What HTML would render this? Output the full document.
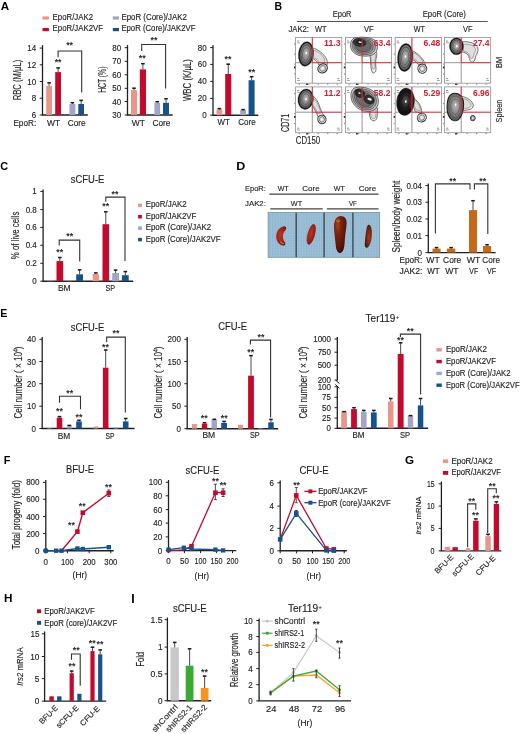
<!DOCTYPE html>
<html><head><meta charset="utf-8"><title>Figure</title>
<style>
html,body{margin:0;padding:0;background:#fff;}
body{width:520px;height:734px;overflow:hidden;}
svg{display:block;font-family:"Liberation Sans",sans-serif;filter:blur(0.3px);}
</style></head><body>
<svg width="520" height="734" viewBox="0 0 520 734">
<rect width="520" height="734" fill="#fff"/>
<text x="0.7" y="10.2" font-size="11.6" fill="#000" font-weight="bold" textLength="8.4" lengthAdjust="spacingAndGlyphs">A</text>
<rect x="42.5" y="16.4" width="6.4" height="3.2" fill="#E8958A"/>
<text x="52.6" y="19.8" font-size="8.2" fill="#231F20" stroke="#231F20" stroke-width="0.15" textLength="40.4" lengthAdjust="spacingAndGlyphs">EpoR/JAK2</text>
<rect x="42.5" y="28" width="6.4" height="3.2" fill="#C40A2C"/>
<text x="52.6" y="31.3" font-size="8.2" fill="#231F20" stroke="#231F20" stroke-width="0.15" textLength="50.4" lengthAdjust="spacingAndGlyphs">EpoR/JAK2VF</text>
<rect x="112.8" y="16.4" width="6.2" height="3.2" fill="#A2A5C8"/>
<text x="121.4" y="19.8" font-size="8.2" fill="#231F20" stroke="#231F20" stroke-width="0.15" textLength="65.5" lengthAdjust="spacingAndGlyphs">EpoR (Core)/JAK2</text>
<rect x="112.8" y="28" width="6.2" height="3.2" fill="#18528C"/>
<text x="121.4" y="31.3" font-size="8.2" fill="#231F20" stroke="#231F20" stroke-width="0.15" textLength="74" lengthAdjust="spacingAndGlyphs">EpoR (Core)/JAK2VF</text>
<line x1="42.5" y1="45.2" x2="42.5" y2="115" stroke="#231F20" stroke-width="1.3"/>
<line x1="39.7" y1="48.1" x2="42.5" y2="48.1" stroke="#231F20" stroke-width="1"/>
<text x="36.2" y="51.1" font-size="8.7" fill="#231F20" text-anchor="end" stroke="#231F20" stroke-width="0.15" textLength="8.9" lengthAdjust="spacingAndGlyphs">14</text>
<line x1="39.7" y1="64.8" x2="42.5" y2="64.8" stroke="#231F20" stroke-width="1"/>
<text x="36.2" y="67.8" font-size="8.7" fill="#231F20" text-anchor="end" stroke="#231F20" stroke-width="0.15" textLength="8.9" lengthAdjust="spacingAndGlyphs">12</text>
<line x1="39.7" y1="81.5" x2="42.5" y2="81.5" stroke="#231F20" stroke-width="1"/>
<text x="36.2" y="84.5" font-size="8.7" fill="#231F20" text-anchor="end" stroke="#231F20" stroke-width="0.15" textLength="8.9" lengthAdjust="spacingAndGlyphs">10</text>
<line x1="39.7" y1="98.2" x2="42.5" y2="98.2" stroke="#231F20" stroke-width="1"/>
<text x="36.2" y="101.2" font-size="8.7" fill="#231F20" text-anchor="end" stroke="#231F20" stroke-width="0.15" textLength="4.45" lengthAdjust="spacingAndGlyphs">8</text>
<line x1="39.7" y1="115" x2="42.5" y2="115" stroke="#231F20" stroke-width="1"/>
<text x="36.2" y="118" font-size="8.7" fill="#231F20" text-anchor="end" stroke="#231F20" stroke-width="0.15" textLength="4.45" lengthAdjust="spacingAndGlyphs">6</text>
<line x1="41.85" y1="115" x2="87.8" y2="115" stroke="#231F20" stroke-width="1.4"/>
<rect x="46.2" y="85.9" width="5.8" height="29.1" fill="#E8958A"/>
<line x1="49.1" y1="82.4" x2="49.1" y2="85.9" stroke="#4a4a4a" stroke-width="1"/>
<line x1="47.3" y1="82.8" x2="50.9" y2="82.8" stroke="#1a1a1a" stroke-width="1.5"/>
<rect x="55.2" y="72.1" width="5.8" height="42.9" fill="#C40A2C"/>
<line x1="58.1" y1="67.5" x2="58.1" y2="72.1" stroke="#4a4a4a" stroke-width="1"/>
<line x1="56.3" y1="67.9" x2="59.9" y2="67.9" stroke="#1a1a1a" stroke-width="1.5"/>
<rect x="69.4" y="104" width="6" height="11" fill="#A2A5C8"/>
<line x1="72.4" y1="102.3" x2="72.4" y2="104" stroke="#4a4a4a" stroke-width="1"/>
<line x1="70.6" y1="102.7" x2="74.2" y2="102.7" stroke="#1a1a1a" stroke-width="1.5"/>
<rect x="78.3" y="104" width="5.7" height="11" fill="#18528C"/>
<line x1="81.15" y1="100" x2="81.15" y2="104" stroke="#4a4a4a" stroke-width="1"/>
<line x1="79.35" y1="100.4" x2="82.95" y2="100.4" stroke="#1a1a1a" stroke-width="1.5"/>
<text x="58.1" y="64.8" font-size="8.8" fill="#2a2a2a" font-weight="bold" text-anchor="middle">**</text>
<polyline points="58.1,57.3 58.1,51 81.7,51 81.7,92.5" fill="none" stroke="#333" stroke-width="1.1"/>
<text x="69.6" y="48.1" font-size="8.8" fill="#2a2a2a" font-weight="bold" text-anchor="middle">**</text>
<text x="20.6" y="80" font-size="10" fill="#231F20" text-anchor="middle" stroke="#231F20" stroke-width="0.15" textLength="40.5" lengthAdjust="spacingAndGlyphs" transform="rotate(-90 20.6 80)">RBC (M/µL)</text>
<text x="13.4" y="125.5" font-size="8.5" fill="#231F20" stroke="#231F20" stroke-width="0.15" textLength="22.8" lengthAdjust="spacingAndGlyphs">EpoR:</text>
<text x="53.5" y="125.5" font-size="8.5" fill="#231F20" text-anchor="middle" stroke="#231F20" stroke-width="0.15" textLength="13.1" lengthAdjust="spacingAndGlyphs">WT</text>
<text x="76.7" y="125.5" font-size="8.5" fill="#231F20" text-anchor="middle" stroke="#231F20" stroke-width="0.15" textLength="18" lengthAdjust="spacingAndGlyphs">Core</text>
<line x1="127.5" y1="45.1" x2="127.5" y2="115" stroke="#231F20" stroke-width="1.3"/>
<line x1="124.7" y1="47.7" x2="127.5" y2="47.7" stroke="#231F20" stroke-width="1"/>
<text x="121.2" y="50.7" font-size="8.7" fill="#231F20" text-anchor="end" stroke="#231F20" stroke-width="0.15" textLength="8.9" lengthAdjust="spacingAndGlyphs">80</text>
<line x1="124.7" y1="61.3" x2="127.5" y2="61.3" stroke="#231F20" stroke-width="1"/>
<text x="121.2" y="64.3" font-size="8.7" fill="#231F20" text-anchor="end" stroke="#231F20" stroke-width="0.15" textLength="8.9" lengthAdjust="spacingAndGlyphs">70</text>
<line x1="124.7" y1="74.8" x2="127.5" y2="74.8" stroke="#231F20" stroke-width="1"/>
<text x="121.2" y="77.8" font-size="8.7" fill="#231F20" text-anchor="end" stroke="#231F20" stroke-width="0.15" textLength="8.9" lengthAdjust="spacingAndGlyphs">60</text>
<line x1="124.7" y1="88.3" x2="127.5" y2="88.3" stroke="#231F20" stroke-width="1"/>
<text x="121.2" y="91.3" font-size="8.7" fill="#231F20" text-anchor="end" stroke="#231F20" stroke-width="0.15" textLength="8.9" lengthAdjust="spacingAndGlyphs">50</text>
<line x1="124.7" y1="101.5" x2="127.5" y2="101.5" stroke="#231F20" stroke-width="1"/>
<text x="121.2" y="104.5" font-size="8.7" fill="#231F20" text-anchor="end" stroke="#231F20" stroke-width="0.15" textLength="8.9" lengthAdjust="spacingAndGlyphs">40</text>
<line x1="124.7" y1="115" x2="127.5" y2="115" stroke="#231F20" stroke-width="1"/>
<text x="121.2" y="118" font-size="8.7" fill="#231F20" text-anchor="end" stroke="#231F20" stroke-width="0.15" textLength="8.9" lengthAdjust="spacingAndGlyphs">30</text>
<line x1="126.85" y1="115" x2="172.7" y2="115" stroke="#231F20" stroke-width="1.4"/>
<rect x="131" y="90.1" width="6" height="24.9" fill="#E8958A"/>
<line x1="134" y1="87.8" x2="134" y2="90.1" stroke="#4a4a4a" stroke-width="1"/>
<line x1="132.2" y1="88.2" x2="135.8" y2="88.2" stroke="#1a1a1a" stroke-width="1.5"/>
<rect x="139.8" y="69.4" width="6.2" height="45.6" fill="#C40A2C"/>
<line x1="142.9" y1="63.3" x2="142.9" y2="69.4" stroke="#4a4a4a" stroke-width="1"/>
<line x1="141.1" y1="63.7" x2="144.7" y2="63.7" stroke="#1a1a1a" stroke-width="1.5"/>
<rect x="154.4" y="102.8" width="5.7" height="12.2" fill="#A2A5C8"/>
<line x1="157.25" y1="101.3" x2="157.25" y2="102.8" stroke="#4a4a4a" stroke-width="1"/>
<line x1="155.45" y1="101.7" x2="159.05" y2="101.7" stroke="#1a1a1a" stroke-width="1.5"/>
<rect x="163" y="102.8" width="6" height="12.2" fill="#18528C"/>
<line x1="166" y1="98.4" x2="166" y2="102.8" stroke="#4a4a4a" stroke-width="1"/>
<line x1="164.2" y1="98.8" x2="167.8" y2="98.8" stroke="#1a1a1a" stroke-width="1.5"/>
<text x="142.3" y="60.8" font-size="8.8" fill="#2a2a2a" font-weight="bold" text-anchor="middle">**</text>
<polyline points="141.7,51.1 141.7,44.5 165.6,44.5 165.6,88.6" fill="none" stroke="#333" stroke-width="1.1"/>
<text x="154" y="43.3" font-size="8.8" fill="#2a2a2a" font-weight="bold" text-anchor="middle">**</text>
<text x="106.2" y="79.7" font-size="10" fill="#231F20" text-anchor="middle" stroke="#231F20" stroke-width="0.15" textLength="26.2" lengthAdjust="spacingAndGlyphs" transform="rotate(-90 106.2 79.7)">HCT (%)</text>
<text x="138.3" y="125.5" font-size="8.5" fill="#231F20" text-anchor="middle" stroke="#231F20" stroke-width="0.15" textLength="13.1" lengthAdjust="spacingAndGlyphs">WT</text>
<text x="161.5" y="125.5" font-size="8.5" fill="#231F20" text-anchor="middle" stroke="#231F20" stroke-width="0.15" textLength="18" lengthAdjust="spacingAndGlyphs">Core</text>
<line x1="213" y1="45.2" x2="213" y2="115.2" stroke="#231F20" stroke-width="1.3"/>
<line x1="210.2" y1="47.6" x2="213" y2="47.6" stroke="#231F20" stroke-width="1"/>
<text x="206.7" y="50.6" font-size="8.7" fill="#231F20" text-anchor="end" stroke="#231F20" stroke-width="0.15" textLength="8.9" lengthAdjust="spacingAndGlyphs">80</text>
<line x1="210.2" y1="64.4" x2="213" y2="64.4" stroke="#231F20" stroke-width="1"/>
<text x="206.7" y="67.4" font-size="8.7" fill="#231F20" text-anchor="end" stroke="#231F20" stroke-width="0.15" textLength="8.9" lengthAdjust="spacingAndGlyphs">60</text>
<line x1="210.2" y1="81.4" x2="213" y2="81.4" stroke="#231F20" stroke-width="1"/>
<text x="206.7" y="84.4" font-size="8.7" fill="#231F20" text-anchor="end" stroke="#231F20" stroke-width="0.15" textLength="8.9" lengthAdjust="spacingAndGlyphs">40</text>
<line x1="210.2" y1="98.4" x2="213" y2="98.4" stroke="#231F20" stroke-width="1"/>
<text x="206.7" y="101.4" font-size="8.7" fill="#231F20" text-anchor="end" stroke="#231F20" stroke-width="0.15" textLength="8.9" lengthAdjust="spacingAndGlyphs">20</text>
<line x1="210.2" y1="115.2" x2="213" y2="115.2" stroke="#231F20" stroke-width="1"/>
<text x="206.7" y="118.2" font-size="8.7" fill="#231F20" text-anchor="end" stroke="#231F20" stroke-width="0.15" textLength="4.45" lengthAdjust="spacingAndGlyphs">0</text>
<line x1="212.35" y1="115.2" x2="258.3" y2="115.2" stroke="#231F20" stroke-width="1.4"/>
<rect x="216.5" y="109.4" width="5.8" height="5.8" fill="#E8958A"/>
<line x1="219.4" y1="108.2" x2="219.4" y2="109.4" stroke="#4a4a4a" stroke-width="1"/>
<line x1="217.6" y1="108.6" x2="221.2" y2="108.6" stroke="#1a1a1a" stroke-width="1.5"/>
<rect x="225.2" y="74" width="6.1" height="41.2" fill="#C40A2C"/>
<line x1="228.25" y1="63.8" x2="228.25" y2="74" stroke="#4a4a4a" stroke-width="1"/>
<line x1="226.45" y1="64.2" x2="230.05" y2="64.2" stroke="#1a1a1a" stroke-width="1.5"/>
<rect x="240.2" y="110" width="5.8" height="5.2" fill="#A2A5C8"/>
<line x1="243.1" y1="109.2" x2="243.1" y2="110" stroke="#4a4a4a" stroke-width="1"/>
<line x1="241.3" y1="109.6" x2="244.9" y2="109.6" stroke="#1a1a1a" stroke-width="1.5"/>
<rect x="248.6" y="80.2" width="6" height="35" fill="#18528C"/>
<line x1="251.6" y1="76.3" x2="251.6" y2="80.2" stroke="#4a4a4a" stroke-width="1"/>
<line x1="249.8" y1="76.7" x2="253.4" y2="76.7" stroke="#1a1a1a" stroke-width="1.5"/>
<text x="228" y="61.5" font-size="8.8" fill="#2a2a2a" font-weight="bold" text-anchor="middle">**</text>
<text x="251.7" y="75" font-size="8.8" fill="#2a2a2a" font-weight="bold" text-anchor="middle">**</text>
<text x="191.5" y="80.1" font-size="10" fill="#231F20" text-anchor="middle" stroke="#231F20" stroke-width="0.15" textLength="42" lengthAdjust="spacingAndGlyphs" transform="rotate(-90 191.5 80.1)">WBC (K/µL)</text>
<text x="223.7" y="125" font-size="8.5" fill="#231F20" text-anchor="middle" stroke="#231F20" stroke-width="0.15" textLength="12.3" lengthAdjust="spacingAndGlyphs">WT</text>
<text x="247" y="125" font-size="8.5" fill="#231F20" text-anchor="middle" stroke="#231F20" stroke-width="0.15" textLength="17.5" lengthAdjust="spacingAndGlyphs">Core</text>
<text x="274.6" y="9.8" font-size="11.3" fill="#000" font-weight="bold" textLength="7.6" lengthAdjust="spacingAndGlyphs">B</text>
<text x="342.1" y="17" font-size="8.3" fill="#231F20" text-anchor="middle" stroke="#231F20" stroke-width="0.15" textLength="18.7" lengthAdjust="spacingAndGlyphs">EpoR</text>
<text x="444.3" y="17" font-size="8.3" fill="#231F20" text-anchor="middle" stroke="#231F20" stroke-width="0.15" textLength="43.1" lengthAdjust="spacingAndGlyphs">EpoR (Core)</text>
<line x1="296.9" y1="21.5" x2="487.7" y2="21.5" stroke="#555" stroke-width="1.2"/>
<text x="288.5" y="31.75" font-size="8.3" fill="#231F20" stroke="#231F20" stroke-width="0.15" textLength="20.5" lengthAdjust="spacingAndGlyphs">JAK2:</text>
<text x="320.75" y="31.75" font-size="8.3" fill="#231F20" text-anchor="middle" stroke="#231F20" stroke-width="0.15" textLength="11.5" lengthAdjust="spacingAndGlyphs">WT</text>
<text x="368.9" y="31.75" font-size="8.3" fill="#231F20" text-anchor="middle" stroke="#231F20" stroke-width="0.15" textLength="9.7" lengthAdjust="spacingAndGlyphs">VF</text>
<text x="419.3" y="31.75" font-size="8.3" fill="#231F20" text-anchor="middle" stroke="#231F20" stroke-width="0.15" textLength="11.2" lengthAdjust="spacingAndGlyphs">WT</text>
<text x="467.8" y="31.75" font-size="8.3" fill="#231F20" text-anchor="middle" stroke="#231F20" stroke-width="0.15" textLength="9.5" lengthAdjust="spacingAndGlyphs">VF</text>
<rect x="295.6" y="37.4" width="46.2" height="45.8" fill="#fff" stroke="#8f8f8f" stroke-width="0.8"/>
<line x1="312.3" y1="62.7" x2="312.3" y2="83.2" stroke="#8a8a8a" stroke-width="0.9"/>
<line x1="295.6" y1="62.7" x2="312.3" y2="62.7" stroke="#8a8a8a" stroke-width="0.9"/>
<rect x="297.1" y="40.6" width="2.2" height="0.9" fill="#8a8a8a"/>
<rect x="297.1" y="42.4" width="2.8" height="0.9" fill="#9a9a9a"/>
<rect x="297.1" y="78.2" width="2.2" height="0.9" fill="#8a8a8a"/>
<rect x="297.1" y="80" width="2.8" height="0.9" fill="#9a9a9a"/>
<rect x="337.3" y="78.2" width="2.2" height="0.9" fill="#8a8a8a"/>
<rect x="337.3" y="80" width="2.8" height="0.9" fill="#9a9a9a"/>
<rect x="298.6" y="83.7" width="1.3" height="0.9" fill="#777"/>
<rect x="308.1" y="83.7" width="1.3" height="0.9" fill="#777"/>
<rect x="317.6" y="83.7" width="1.3" height="0.9" fill="#777"/>
<rect x="327.1" y="83.7" width="1.3" height="0.9" fill="#777"/>
<rect x="336.6" y="83.7" width="1.3" height="0.9" fill="#777"/>
<rect x="306.1" y="83.6" width="2" height="1.4" fill="#333"/>
<rect x="294.2" y="43.4" width="0.9" height="1.3" fill="#888"/>
<rect x="294.2" y="53.4" width="0.9" height="1.3" fill="#888"/>
<rect x="294.2" y="63.4" width="0.9" height="1.3" fill="#888"/>
<rect x="294.2" y="73.4" width="0.9" height="1.3" fill="#888"/>
<rect x="294" y="66.4" width="1.5" height="2" fill="#333"/>
<rect x="345.4" y="37.4" width="46.2" height="45.8" fill="#fff" stroke="#8f8f8f" stroke-width="0.8"/>
<line x1="362.1" y1="62.7" x2="362.1" y2="83.2" stroke="#8a8a8a" stroke-width="0.9"/>
<line x1="345.4" y1="62.7" x2="362.1" y2="62.7" stroke="#8a8a8a" stroke-width="0.9"/>
<rect x="346.9" y="40.6" width="2.2" height="0.9" fill="#8a8a8a"/>
<rect x="346.9" y="42.4" width="2.8" height="0.9" fill="#9a9a9a"/>
<rect x="346.9" y="78.2" width="2.2" height="0.9" fill="#8a8a8a"/>
<rect x="346.9" y="80" width="2.8" height="0.9" fill="#9a9a9a"/>
<rect x="387.1" y="78.2" width="2.2" height="0.9" fill="#8a8a8a"/>
<rect x="387.1" y="80" width="2.8" height="0.9" fill="#9a9a9a"/>
<rect x="348.4" y="83.7" width="1.3" height="0.9" fill="#777"/>
<rect x="357.9" y="83.7" width="1.3" height="0.9" fill="#777"/>
<rect x="367.4" y="83.7" width="1.3" height="0.9" fill="#777"/>
<rect x="376.9" y="83.7" width="1.3" height="0.9" fill="#777"/>
<rect x="386.4" y="83.7" width="1.3" height="0.9" fill="#777"/>
<rect x="355.9" y="83.6" width="2" height="1.4" fill="#333"/>
<rect x="344" y="43.4" width="0.9" height="1.3" fill="#888"/>
<rect x="344" y="53.4" width="0.9" height="1.3" fill="#888"/>
<rect x="344" y="63.4" width="0.9" height="1.3" fill="#888"/>
<rect x="344" y="73.4" width="0.9" height="1.3" fill="#888"/>
<rect x="343.8" y="66.4" width="1.5" height="2" fill="#333"/>
<rect x="395.2" y="37.4" width="46.2" height="45.8" fill="#fff" stroke="#8f8f8f" stroke-width="0.8"/>
<line x1="411.9" y1="62.7" x2="411.9" y2="83.2" stroke="#8a8a8a" stroke-width="0.9"/>
<line x1="395.2" y1="62.7" x2="411.9" y2="62.7" stroke="#8a8a8a" stroke-width="0.9"/>
<rect x="396.7" y="40.6" width="2.2" height="0.9" fill="#8a8a8a"/>
<rect x="396.7" y="42.4" width="2.8" height="0.9" fill="#9a9a9a"/>
<rect x="396.7" y="78.2" width="2.2" height="0.9" fill="#8a8a8a"/>
<rect x="396.7" y="80" width="2.8" height="0.9" fill="#9a9a9a"/>
<rect x="436.9" y="78.2" width="2.2" height="0.9" fill="#8a8a8a"/>
<rect x="436.9" y="80" width="2.8" height="0.9" fill="#9a9a9a"/>
<rect x="398.2" y="83.7" width="1.3" height="0.9" fill="#777"/>
<rect x="407.7" y="83.7" width="1.3" height="0.9" fill="#777"/>
<rect x="417.2" y="83.7" width="1.3" height="0.9" fill="#777"/>
<rect x="426.7" y="83.7" width="1.3" height="0.9" fill="#777"/>
<rect x="436.2" y="83.7" width="1.3" height="0.9" fill="#777"/>
<rect x="405.7" y="83.6" width="2" height="1.4" fill="#333"/>
<rect x="393.8" y="43.4" width="0.9" height="1.3" fill="#888"/>
<rect x="393.8" y="53.4" width="0.9" height="1.3" fill="#888"/>
<rect x="393.8" y="63.4" width="0.9" height="1.3" fill="#888"/>
<rect x="393.8" y="73.4" width="0.9" height="1.3" fill="#888"/>
<rect x="393.6" y="66.4" width="1.5" height="2" fill="#333"/>
<rect x="444.5" y="37.4" width="46.2" height="45.8" fill="#fff" stroke="#8f8f8f" stroke-width="0.8"/>
<line x1="461.2" y1="62.7" x2="461.2" y2="83.2" stroke="#8a8a8a" stroke-width="0.9"/>
<line x1="444.5" y1="62.7" x2="461.2" y2="62.7" stroke="#8a8a8a" stroke-width="0.9"/>
<rect x="446" y="40.6" width="2.2" height="0.9" fill="#8a8a8a"/>
<rect x="446" y="42.4" width="2.8" height="0.9" fill="#9a9a9a"/>
<rect x="446" y="78.2" width="2.2" height="0.9" fill="#8a8a8a"/>
<rect x="446" y="80" width="2.8" height="0.9" fill="#9a9a9a"/>
<rect x="486.2" y="78.2" width="2.2" height="0.9" fill="#8a8a8a"/>
<rect x="486.2" y="80" width="2.8" height="0.9" fill="#9a9a9a"/>
<rect x="447.5" y="83.7" width="1.3" height="0.9" fill="#777"/>
<rect x="457" y="83.7" width="1.3" height="0.9" fill="#777"/>
<rect x="466.5" y="83.7" width="1.3" height="0.9" fill="#777"/>
<rect x="476" y="83.7" width="1.3" height="0.9" fill="#777"/>
<rect x="485.5" y="83.7" width="1.3" height="0.9" fill="#777"/>
<rect x="455" y="83.6" width="2" height="1.4" fill="#333"/>
<rect x="443.1" y="43.4" width="0.9" height="1.3" fill="#888"/>
<rect x="443.1" y="53.4" width="0.9" height="1.3" fill="#888"/>
<rect x="443.1" y="63.4" width="0.9" height="1.3" fill="#888"/>
<rect x="443.1" y="73.4" width="0.9" height="1.3" fill="#888"/>
<rect x="442.9" y="66.4" width="1.5" height="2" fill="#333"/>
<rect x="295.6" y="86.9" width="46.2" height="45.8" fill="#fff" stroke="#8f8f8f" stroke-width="0.8"/>
<line x1="312.3" y1="112.2" x2="312.3" y2="132.7" stroke="#8a8a8a" stroke-width="0.9"/>
<line x1="295.6" y1="112.2" x2="312.3" y2="112.2" stroke="#8a8a8a" stroke-width="0.9"/>
<rect x="297.1" y="90.1" width="2.2" height="0.9" fill="#8a8a8a"/>
<rect x="297.1" y="91.9" width="2.8" height="0.9" fill="#9a9a9a"/>
<rect x="297.1" y="127.7" width="2.2" height="0.9" fill="#8a8a8a"/>
<rect x="297.1" y="129.5" width="2.8" height="0.9" fill="#9a9a9a"/>
<rect x="337.3" y="127.7" width="2.2" height="0.9" fill="#8a8a8a"/>
<rect x="337.3" y="129.5" width="2.8" height="0.9" fill="#9a9a9a"/>
<rect x="298.6" y="133.2" width="1.3" height="0.9" fill="#777"/>
<rect x="308.1" y="133.2" width="1.3" height="0.9" fill="#777"/>
<rect x="317.6" y="133.2" width="1.3" height="0.9" fill="#777"/>
<rect x="327.1" y="133.2" width="1.3" height="0.9" fill="#777"/>
<rect x="336.6" y="133.2" width="1.3" height="0.9" fill="#777"/>
<rect x="306.1" y="133.1" width="2" height="1.4" fill="#333"/>
<rect x="294.2" y="92.9" width="0.9" height="1.3" fill="#888"/>
<rect x="294.2" y="102.9" width="0.9" height="1.3" fill="#888"/>
<rect x="294.2" y="112.9" width="0.9" height="1.3" fill="#888"/>
<rect x="294.2" y="122.9" width="0.9" height="1.3" fill="#888"/>
<rect x="294" y="115.9" width="1.5" height="2" fill="#333"/>
<rect x="345.4" y="86.9" width="46.2" height="45.8" fill="#fff" stroke="#8f8f8f" stroke-width="0.8"/>
<line x1="362.1" y1="112.2" x2="362.1" y2="132.7" stroke="#8a8a8a" stroke-width="0.9"/>
<line x1="345.4" y1="112.2" x2="362.1" y2="112.2" stroke="#8a8a8a" stroke-width="0.9"/>
<rect x="346.9" y="90.1" width="2.2" height="0.9" fill="#8a8a8a"/>
<rect x="346.9" y="91.9" width="2.8" height="0.9" fill="#9a9a9a"/>
<rect x="346.9" y="127.7" width="2.2" height="0.9" fill="#8a8a8a"/>
<rect x="346.9" y="129.5" width="2.8" height="0.9" fill="#9a9a9a"/>
<rect x="387.1" y="127.7" width="2.2" height="0.9" fill="#8a8a8a"/>
<rect x="387.1" y="129.5" width="2.8" height="0.9" fill="#9a9a9a"/>
<rect x="348.4" y="133.2" width="1.3" height="0.9" fill="#777"/>
<rect x="357.9" y="133.2" width="1.3" height="0.9" fill="#777"/>
<rect x="367.4" y="133.2" width="1.3" height="0.9" fill="#777"/>
<rect x="376.9" y="133.2" width="1.3" height="0.9" fill="#777"/>
<rect x="386.4" y="133.2" width="1.3" height="0.9" fill="#777"/>
<rect x="355.9" y="133.1" width="2" height="1.4" fill="#333"/>
<rect x="344" y="92.9" width="0.9" height="1.3" fill="#888"/>
<rect x="344" y="102.9" width="0.9" height="1.3" fill="#888"/>
<rect x="344" y="112.9" width="0.9" height="1.3" fill="#888"/>
<rect x="344" y="122.9" width="0.9" height="1.3" fill="#888"/>
<rect x="343.8" y="115.9" width="1.5" height="2" fill="#333"/>
<rect x="395.2" y="86.9" width="46.2" height="45.8" fill="#fff" stroke="#8f8f8f" stroke-width="0.8"/>
<line x1="411.9" y1="112.2" x2="411.9" y2="132.7" stroke="#8a8a8a" stroke-width="0.9"/>
<line x1="395.2" y1="112.2" x2="411.9" y2="112.2" stroke="#8a8a8a" stroke-width="0.9"/>
<rect x="396.7" y="90.1" width="2.2" height="0.9" fill="#8a8a8a"/>
<rect x="396.7" y="91.9" width="2.8" height="0.9" fill="#9a9a9a"/>
<rect x="396.7" y="127.7" width="2.2" height="0.9" fill="#8a8a8a"/>
<rect x="396.7" y="129.5" width="2.8" height="0.9" fill="#9a9a9a"/>
<rect x="436.9" y="127.7" width="2.2" height="0.9" fill="#8a8a8a"/>
<rect x="436.9" y="129.5" width="2.8" height="0.9" fill="#9a9a9a"/>
<rect x="398.2" y="133.2" width="1.3" height="0.9" fill="#777"/>
<rect x="407.7" y="133.2" width="1.3" height="0.9" fill="#777"/>
<rect x="417.2" y="133.2" width="1.3" height="0.9" fill="#777"/>
<rect x="426.7" y="133.2" width="1.3" height="0.9" fill="#777"/>
<rect x="436.2" y="133.2" width="1.3" height="0.9" fill="#777"/>
<rect x="405.7" y="133.1" width="2" height="1.4" fill="#333"/>
<rect x="393.8" y="92.9" width="0.9" height="1.3" fill="#888"/>
<rect x="393.8" y="102.9" width="0.9" height="1.3" fill="#888"/>
<rect x="393.8" y="112.9" width="0.9" height="1.3" fill="#888"/>
<rect x="393.8" y="122.9" width="0.9" height="1.3" fill="#888"/>
<rect x="393.6" y="115.9" width="1.5" height="2" fill="#333"/>
<rect x="444.5" y="86.9" width="46.2" height="45.8" fill="#fff" stroke="#8f8f8f" stroke-width="0.8"/>
<line x1="461.2" y1="112.2" x2="461.2" y2="132.7" stroke="#8a8a8a" stroke-width="0.9"/>
<line x1="444.5" y1="112.2" x2="461.2" y2="112.2" stroke="#8a8a8a" stroke-width="0.9"/>
<rect x="446" y="90.1" width="2.2" height="0.9" fill="#8a8a8a"/>
<rect x="446" y="91.9" width="2.8" height="0.9" fill="#9a9a9a"/>
<rect x="446" y="127.7" width="2.2" height="0.9" fill="#8a8a8a"/>
<rect x="446" y="129.5" width="2.8" height="0.9" fill="#9a9a9a"/>
<rect x="486.2" y="127.7" width="2.2" height="0.9" fill="#8a8a8a"/>
<rect x="486.2" y="129.5" width="2.8" height="0.9" fill="#9a9a9a"/>
<rect x="447.5" y="133.2" width="1.3" height="0.9" fill="#777"/>
<rect x="457" y="133.2" width="1.3" height="0.9" fill="#777"/>
<rect x="466.5" y="133.2" width="1.3" height="0.9" fill="#777"/>
<rect x="476" y="133.2" width="1.3" height="0.9" fill="#777"/>
<rect x="485.5" y="133.2" width="1.3" height="0.9" fill="#777"/>
<rect x="455" y="133.1" width="2" height="1.4" fill="#333"/>
<rect x="443.1" y="92.9" width="0.9" height="1.3" fill="#888"/>
<rect x="443.1" y="102.9" width="0.9" height="1.3" fill="#888"/>
<rect x="443.1" y="112.9" width="0.9" height="1.3" fill="#888"/>
<rect x="443.1" y="122.9" width="0.9" height="1.3" fill="#888"/>
<rect x="442.9" y="115.9" width="1.5" height="2" fill="#333"/>
<defs><radialGradient id="bg1" cx="0.5" cy="0.45" r="0.55"><stop offset="0" stop-color="#b8b8b8"/><stop offset="0.45" stop-color="#8c8c8c"/><stop offset="0.85" stop-color="#666"/><stop offset="1" stop-color="#444"/></radialGradient><radialGradient id="bg2" cx="0.5" cy="0.45" r="0.55"><stop offset="0" stop-color="#555"/><stop offset="0.5" stop-color="#222"/><stop offset="1" stop-color="#0e0e0e"/></radialGradient></defs>
<path d="M310.5 47.5 C316 48 321.5 52 325 56.5 C327.5 60 328 63.5 326.5 66 L319 65 C317.5 61.5 315 59 311 58 Z" fill="#ececec" stroke="#4a4a4a" stroke-width="0.75" stroke-linejoin="round"/>
<path d="M310.5 47.5 C316 48 321.5 52 325 56.5 C327.5 60 328 63.5 326.5 66 L319 65 C317.5 61.5 315 59 311 58 Z" transform="translate(318.5 56.5) rotate(0) scale(0.7) translate(-318.5 -56.5)" fill="#dedede" stroke="#777" stroke-width="0.6" vector-effect="non-scaling-stroke" stroke-linejoin="round"/>
<ellipse cx="322.6" cy="68.4" rx="5" ry="4.4" transform="rotate(-35 322.6 68.4)" fill="#e2e2e2" stroke="#2a2a2a" stroke-width="0.95"/>
<ellipse cx="322.6" cy="68.4" rx="3.2" ry="2.82" transform="rotate(-35 322.6 68.4)" fill="#cdcdcd" stroke="#555" stroke-width="0.6"/>
<ellipse cx="322.6" cy="68.4" rx="1.4" ry="1.23" transform="rotate(-35 322.6 68.4)" fill="#f4f4f4" stroke="none" stroke-width="0"/>
<ellipse cx="306" cy="54" rx="7.6" ry="12.4" transform="rotate(6 306 54)" fill="none" stroke="#8a8a8a" stroke-width="0.6"/>
<ellipse cx="306" cy="54" rx="6.9" ry="11.7" transform="rotate(6 306 54)" fill="url(#bg1)" stroke="#151515" stroke-width="1.3"/>
<ellipse cx="306" cy="54" rx="5.24" ry="9.13" transform="rotate(6 306 54)" fill="none" stroke="#3a3a3a" stroke-width="0.6"/>
<ellipse cx="306" cy="54" rx="3.59" ry="6.44" transform="rotate(6 306 54)" fill="none" stroke="#4a4a4a" stroke-width="0.5"/>
<ellipse cx="306.3" cy="53" rx="0.9" ry="1.3" transform="rotate(6 306.3 53)" fill="#fafafa" stroke="none" stroke-width="0"/>
<path d="M367.5 51 C370 54 370.5 58 370.6 62 C370.8 66 371 70 372.6 72.6 C374.6 73.6 376.2 71.6 376 68.5 C375.7 65 375.2 61 376.6 56 C377.6 52 375 49.5 371 50 Z" fill="#ececec" stroke="#4a4a4a" stroke-width="0.75" stroke-linejoin="round"/>
<path d="M367.5 51 C370 54 370.5 58 370.6 62 C370.8 66 371 70 372.6 72.6 C374.6 73.6 376.2 71.6 376 68.5 C375.7 65 375.2 61 376.6 56 C377.6 52 375 49.5 371 50 Z" transform="translate(373 60) rotate(0) scale(0.7) translate(-373 -60)" fill="#dedede" stroke="#777" stroke-width="0.6" vector-effect="non-scaling-stroke" stroke-linejoin="round"/>
<path d="M354 38.2 C360 36.6 368 36.8 373.2 39.3 C377.8 41.6 378.4 47 376.4 51.6 C373.8 55.8 367 56.8 360.8 55.8 C354.8 54.8 350.8 51 350.6 46 C350.4 42 351.4 39.3 354 38.2 Z" transform="translate(362 45.5) rotate(0) scale(1) translate(-362 -45.5)" fill="#d4d4d4" stroke="#333" stroke-width="0.7" vector-effect="non-scaling-stroke" stroke-linejoin="round"/>
<path d="M354 38.2 C360 36.6 368 36.8 373.2 39.3 C377.8 41.6 378.4 47 376.4 51.6 C373.8 55.8 367 56.8 360.8 55.8 C354.8 54.8 350.8 51 350.6 46 C350.4 42 351.4 39.3 354 38.2 Z" transform="translate(362 45.5) rotate(0) scale(0.86) translate(-362 -45.5)" fill="#b0b0b0" stroke="#3a3a3a" stroke-width="0.7" vector-effect="non-scaling-stroke" stroke-linejoin="round"/>
<path d="M354 38.2 C360 36.6 368 36.8 373.2 39.3 C377.8 41.6 378.4 47 376.4 51.6 C373.8 55.8 367 56.8 360.8 55.8 C354.8 54.8 350.8 51 350.6 46 C350.4 42 351.4 39.3 354 38.2 Z" transform="translate(362 45.5) rotate(0) scale(0.72) translate(-362 -45.5)" fill="#8c8c8c" stroke="#444" stroke-width="0.7" vector-effect="non-scaling-stroke" stroke-linejoin="round"/>
<path d="M354 38.2 C360 36.6 368 36.8 373.2 39.3 C377.8 41.6 378.4 47 376.4 51.6 C373.8 55.8 367 56.8 360.8 55.8 C354.8 54.8 350.8 51 350.6 46 C350.4 42 351.4 39.3 354 38.2 Z" transform="translate(362 45.5) rotate(0) scale(0.58) translate(-362 -45.5)" fill="#6a6a6a" stroke="#444" stroke-width="0.7" vector-effect="non-scaling-stroke" stroke-linejoin="round"/>
<ellipse cx="359.5" cy="42.5" rx="6.4" ry="3.8" transform="rotate(8 359.5 42.5)" fill="#333" stroke="#111" stroke-width="0.6"/>
<ellipse cx="359.8" cy="42.3" rx="3.6" ry="2.1" transform="rotate(8 359.8 42.3)" fill="#1a1a1a" stroke="none" stroke-width="0"/>
<ellipse cx="360.2" cy="42.2" rx="1.8" ry="0.8" transform="rotate(8 360.2 42.2)" fill="#eeeeee" stroke="none" stroke-width="0"/>
<path d="M410.5 50 C415.5 51.5 419.8 55.5 422.8 59.5 C425 62.5 426 65 424.8 66 L418.5 64.8 C416.5 62 414 60 411 59 Z" fill="#ececec" stroke="#4a4a4a" stroke-width="0.75" stroke-linejoin="round"/>
<path d="M410.5 50 C415.5 51.5 419.8 55.5 422.8 59.5 C425 62.5 426 65 424.8 66 L418.5 64.8 C416.5 62 414 60 411 59 Z" transform="translate(418 58) rotate(0) scale(0.7) translate(-418 -58)" fill="#dedede" stroke="#777" stroke-width="0.6" vector-effect="non-scaling-stroke" stroke-linejoin="round"/>
<ellipse cx="422.3" cy="68.7" rx="4.4" ry="4.6" transform="rotate(-30 422.3 68.7)" fill="#e2e2e2" stroke="#2a2a2a" stroke-width="0.95"/>
<ellipse cx="422.3" cy="68.7" rx="2.82" ry="2.94" transform="rotate(-30 422.3 68.7)" fill="#cdcdcd" stroke="#555" stroke-width="0.6"/>
<ellipse cx="422.3" cy="68.7" rx="1.23" ry="1.29" transform="rotate(-30 422.3 68.7)" fill="#f4f4f4" stroke="none" stroke-width="0"/>
<ellipse cx="405.2" cy="57.5" rx="7.7" ry="14" transform="rotate(5 405.2 57.5)" fill="none" stroke="#8a8a8a" stroke-width="0.6"/>
<ellipse cx="405.2" cy="57.5" rx="7" ry="13.3" transform="rotate(5 405.2 57.5)" fill="url(#bg1)" stroke="#151515" stroke-width="1.3"/>
<ellipse cx="405.2" cy="57.5" rx="5.32" ry="10.37" transform="rotate(5 405.2 57.5)" fill="none" stroke="#3a3a3a" stroke-width="0.6"/>
<ellipse cx="405.2" cy="57.5" rx="3.64" ry="7.32" transform="rotate(5 405.2 57.5)" fill="none" stroke="#4a4a4a" stroke-width="0.5"/>
<ellipse cx="405.5" cy="56.5" rx="0.9" ry="1.3" transform="rotate(5 405.5 56.5)" fill="#fafafa" stroke="none" stroke-width="0"/>
<path d="M460.5 42 C466 41 472.5 42.2 476.4 45.4 C479 48 478 52.4 476 55.4 C475 58.4 475 61.4 472.8 62.2 C470 62.6 469.4 59 468.8 56.5 C467.8 53.5 465 52.2 461 51.8 Z" fill="#ececec" stroke="#4a4a4a" stroke-width="0.75" stroke-linejoin="round"/>
<path d="M460.5 42 C466 41 472.5 42.2 476.4 45.4 C479 48 478 52.4 476 55.4 C475 58.4 475 61.4 472.8 62.2 C470 62.6 469.4 59 468.8 56.5 C467.8 53.5 465 52.2 461 51.8 Z" transform="translate(469.5 50) rotate(0) scale(0.7) translate(-469.5 -50)" fill="#dedede" stroke="#777" stroke-width="0.6" vector-effect="non-scaling-stroke" stroke-linejoin="round"/>
<ellipse cx="456.5" cy="46.2" rx="7.1" ry="8.6" transform="rotate(0 456.5 46.2)" fill="none" stroke="#8a8a8a" stroke-width="0.6"/>
<ellipse cx="456.5" cy="46.2" rx="6.4" ry="7.9" transform="rotate(0 456.5 46.2)" fill="url(#bg1)" stroke="#151515" stroke-width="1.3"/>
<ellipse cx="456.5" cy="46.2" rx="4.86" ry="6.16" transform="rotate(0 456.5 46.2)" fill="none" stroke="#3a3a3a" stroke-width="0.6"/>
<ellipse cx="456.5" cy="46.2" rx="3.33" ry="4.35" transform="rotate(0 456.5 46.2)" fill="none" stroke="#4a4a4a" stroke-width="0.5"/>
<ellipse cx="456.8" cy="46.2" rx="0.9" ry="1.3" transform="rotate(0 456.8 46.2)" fill="#fafafa" stroke="none" stroke-width="0"/>
<path d="M311 95 C315 96.5 317.8 101 319.4 106 C320.8 110 322.2 113 323.8 115.5 L318.2 117.2 C316.8 113.5 315.2 110 313.2 107 C311.6 105 310.6 103 310.6 101 Z" fill="#ececec" stroke="#4a4a4a" stroke-width="0.75" stroke-linejoin="round"/>
<path d="M311 95 C315 96.5 317.8 101 319.4 106 C320.8 110 322.2 113 323.8 115.5 L318.2 117.2 C316.8 113.5 315.2 110 313.2 107 C311.6 105 310.6 103 310.6 101 Z" transform="translate(316.5 106) rotate(0) scale(0.7) translate(-316.5 -106)" fill="#dedede" stroke="#777" stroke-width="0.6" vector-effect="non-scaling-stroke" stroke-linejoin="round"/>
<ellipse cx="321.9" cy="119.4" rx="4.1" ry="4.3" transform="rotate(-30 321.9 119.4)" fill="#e2e2e2" stroke="#2a2a2a" stroke-width="0.95"/>
<ellipse cx="321.9" cy="119.4" rx="2.62" ry="2.75" transform="rotate(-30 321.9 119.4)" fill="#cdcdcd" stroke="#555" stroke-width="0.6"/>
<ellipse cx="321.9" cy="119.4" rx="1.15" ry="1.2" transform="rotate(-30 321.9 119.4)" fill="#f4f4f4" stroke="none" stroke-width="0"/>
<ellipse cx="305.7" cy="99.2" rx="7.8" ry="10.3" transform="rotate(8 305.7 99.2)" fill="none" stroke="#8a8a8a" stroke-width="0.6"/>
<ellipse cx="305.7" cy="99.2" rx="7.1" ry="9.6" transform="rotate(8 305.7 99.2)" fill="url(#bg1)" stroke="#151515" stroke-width="1.3"/>
<ellipse cx="305.7" cy="99.2" rx="5.4" ry="7.49" transform="rotate(8 305.7 99.2)" fill="none" stroke="#3a3a3a" stroke-width="0.6"/>
<ellipse cx="305.7" cy="99.2" rx="3.69" ry="5.28" transform="rotate(8 305.7 99.2)" fill="none" stroke="#4a4a4a" stroke-width="0.5"/>
<ellipse cx="306" cy="99.2" rx="0.9" ry="1.3" transform="rotate(8 306 99.2)" fill="#fafafa" stroke="none" stroke-width="0"/>
<path d="M368.6 108.5 C369.2 112 369.4 116 370.8 119.2 C372.4 121.4 375.6 121.4 376.7 118.6 C377.7 115.5 377.2 112 377.7 108 Z" fill="#ececec" stroke="#4a4a4a" stroke-width="0.75" stroke-linejoin="round"/>
<path d="M368.6 108.5 C369.2 112 369.4 116 370.8 119.2 C372.4 121.4 375.6 121.4 376.7 118.6 C377.7 115.5 377.2 112 377.7 108 Z" transform="translate(373 114) rotate(0) scale(0.7) translate(-373 -114)" fill="#dedede" stroke="#777" stroke-width="0.6" vector-effect="non-scaling-stroke" stroke-linejoin="round"/>
<path d="M354 88.2 C359 86.3 366 87.1 371.2 89.9 C376.3 92.7 378.8 97.6 378.3 102.6 C377.8 107.7 374.2 111.3 368.6 111.5 C362 111.8 356.3 108.2 353.1 103.1 C350.2 98.5 349.8 91.3 354 88.2 Z" transform="translate(364 99.5) rotate(0) scale(1) translate(-364 -99.5)" fill="#cccccc" stroke="#333" stroke-width="0.7" vector-effect="non-scaling-stroke" stroke-linejoin="round"/>
<path d="M354 88.2 C359 86.3 366 87.1 371.2 89.9 C376.3 92.7 378.8 97.6 378.3 102.6 C377.8 107.7 374.2 111.3 368.6 111.5 C362 111.8 356.3 108.2 353.1 103.1 C350.2 98.5 349.8 91.3 354 88.2 Z" transform="translate(364 99.5) rotate(0) scale(0.86) translate(-364 -99.5)" fill="#a8a8a8" stroke="#3a3a3a" stroke-width="0.7" vector-effect="non-scaling-stroke" stroke-linejoin="round"/>
<path d="M354 88.2 C359 86.3 366 87.1 371.2 89.9 C376.3 92.7 378.8 97.6 378.3 102.6 C377.8 107.7 374.2 111.3 368.6 111.5 C362 111.8 356.3 108.2 353.1 103.1 C350.2 98.5 349.8 91.3 354 88.2 Z" transform="translate(364 99.5) rotate(0) scale(0.72) translate(-364 -99.5)" fill="#888" stroke="#444" stroke-width="0.7" vector-effect="non-scaling-stroke" stroke-linejoin="round"/>
<path d="M354 88.2 C359 86.3 366 87.1 371.2 89.9 C376.3 92.7 378.8 97.6 378.3 102.6 C377.8 107.7 374.2 111.3 368.6 111.5 C362 111.8 356.3 108.2 353.1 103.1 C350.2 98.5 349.8 91.3 354 88.2 Z" transform="translate(364 99.5) rotate(0) scale(0.58) translate(-364 -99.5)" fill="#6c6c6c" stroke="#444" stroke-width="0.7" vector-effect="non-scaling-stroke" stroke-linejoin="round"/>
<ellipse cx="359.6" cy="93.2" rx="5.2" ry="4" transform="rotate(25 359.6 93.2)" fill="#2a2a2a" stroke="#111" stroke-width="0.5"/>
<ellipse cx="369" cy="99.6" rx="5.4" ry="4.1" transform="rotate(25 369 99.6)" fill="#2e2e2e" stroke="#111" stroke-width="0.5"/>
<ellipse cx="369.6" cy="99.2" rx="2.3" ry="1.2" transform="rotate(20 369.6 99.2)" fill="#f0f0f0" stroke="none" stroke-width="0"/>
<ellipse cx="359.4" cy="93.1" rx="1.3" ry="0.8" transform="rotate(20 359.4 93.1)" fill="#dddddd" stroke="none" stroke-width="0"/>
<path d="M412.6 97.5 C416.5 99.5 419.2 103 420.7 107 C421.7 110 422.2 112 421.2 113.5 L415.2 111.5 C413.8 108 412.8 105 412.2 103 Z" fill="#ececec" stroke="#4a4a4a" stroke-width="0.75" stroke-linejoin="round"/>
<path d="M412.6 97.5 C416.5 99.5 419.2 103 420.7 107 C421.7 110 422.2 112 421.2 113.5 L415.2 111.5 C413.8 108 412.8 105 412.2 103 Z" transform="translate(417 105) rotate(0) scale(0.7) translate(-417 -105)" fill="#dedede" stroke="#777" stroke-width="0.6" vector-effect="non-scaling-stroke" stroke-linejoin="round"/>
<ellipse cx="421.8" cy="117.6" rx="4.6" ry="4.2" transform="rotate(-30 421.8 117.6)" fill="#e2e2e2" stroke="#2a2a2a" stroke-width="0.95"/>
<ellipse cx="421.8" cy="117.6" rx="2.94" ry="2.69" transform="rotate(-30 421.8 117.6)" fill="#cdcdcd" stroke="#555" stroke-width="0.6"/>
<ellipse cx="421.8" cy="117.6" rx="1.29" ry="1.18" transform="rotate(-30 421.8 117.6)" fill="#f4f4f4" stroke="none" stroke-width="0"/>
<ellipse cx="405.5" cy="101.8" rx="9" ry="13.8" transform="rotate(6 405.5 101.8)" fill="none" stroke="#8a8a8a" stroke-width="0.6"/>
<ellipse cx="405.5" cy="101.8" rx="8.3" ry="13.1" transform="rotate(6 405.5 101.8)" fill="url(#bg2)" stroke="#151515" stroke-width="1.3"/>
<ellipse cx="405.5" cy="101.8" rx="6.31" ry="10.22" transform="rotate(6 405.5 101.8)" fill="none" stroke="#0a0a0a" stroke-width="0.6"/>
<ellipse cx="405.5" cy="101.8" rx="4.32" ry="7.21" transform="rotate(6 405.5 101.8)" fill="none" stroke="#111" stroke-width="0.5"/>
<ellipse cx="405.8" cy="101.5" rx="0.9" ry="1.3" transform="rotate(6 405.8 101.5)" fill="#fafafa" stroke="none" stroke-width="0"/>
<ellipse cx="411.2" cy="101" rx="2.2" ry="8.5" transform="rotate(6 411.2 101)" fill="#6b2020" stroke="none" stroke-width="0" opacity="0.5"/>
<path d="M459.5 96 C465 96.5 470.8 99.3 472.8 103.5 C474.3 107 471.7 109.7 467.5 110 C465 110.2 463 110.7 461.5 111.7 Z" fill="#ececec" stroke="#4a4a4a" stroke-width="0.75" stroke-linejoin="round"/>
<path d="M459.5 96 C465 96.5 470.8 99.3 472.8 103.5 C474.3 107 471.7 109.7 467.5 110 C465 110.2 463 110.7 461.5 111.7 Z" transform="translate(466 103.5) rotate(0) scale(0.7) translate(-466 -103.5)" fill="#dedede" stroke="#777" stroke-width="0.6" vector-effect="non-scaling-stroke" stroke-linejoin="round"/>
<ellipse cx="472.8" cy="118.1" rx="2.4" ry="2.7" transform="rotate(0 472.8 118.1)" fill="#e2e2e2" stroke="#2a2a2a" stroke-width="0.95"/>
<ellipse cx="472.8" cy="118.1" rx="1.54" ry="1.73" transform="rotate(0 472.8 118.1)" fill="#cdcdcd" stroke="#555" stroke-width="0.6"/>
<ellipse cx="472.8" cy="118.1" rx="0.67" ry="0.76" transform="rotate(0 472.8 118.1)" fill="#f4f4f4" stroke="none" stroke-width="0"/>
<path d="M455 93.3 C460 93.3 463.6 98 463.6 104 C463.6 110 462 116 458.5 119.6 C456 121.6 452.4 121.1 449.9 118 C447.2 114.5 446.7 108 447.4 102 C448.2 96.5 451 93.3 455 93.3 Z" fill="url(#bg1)" stroke="#1e1e1e" stroke-width="1.1"/>
<path d="M455 93.3 C460 93.3 463.6 98 463.6 104 C463.6 110 462 116 458.5 119.6 C456 121.6 452.4 121.1 449.9 118 C447.2 114.5 446.7 108 447.4 102 C448.2 96.5 451 93.3 455 93.3 Z" transform="translate(455.3 106.5) rotate(0) scale(0.78) translate(-455.3 -106.5)" fill="none" stroke="#4a4a4a" stroke-width="0.6" vector-effect="non-scaling-stroke" stroke-linejoin="round"/>
<path d="M455 93.3 C460 93.3 463.6 98 463.6 104 C463.6 110 462 116 458.5 119.6 C456 121.6 452.4 121.1 449.9 118 C447.2 114.5 446.7 108 447.4 102 C448.2 96.5 451 93.3 455 93.3 Z" transform="translate(455.3 106.5) rotate(0) scale(0.55) translate(-455.3 -106.5)" fill="none" stroke="#555" stroke-width="0.6" vector-effect="non-scaling-stroke" stroke-linejoin="round"/>
<ellipse cx="455.6" cy="104.8" rx="0.9" ry="1.3" transform="rotate(0 455.6 104.8)" fill="#fafafa" stroke="none" stroke-width="0"/>
<line x1="312.3" y1="37.4" x2="312.3" y2="62.7" stroke="#D42F3A" stroke-width="1.1"/>
<line x1="312.3" y1="62.7" x2="341.8" y2="62.7" stroke="#D42F3A" stroke-width="1.1"/>
<text x="340.6" y="46" font-size="9.2" fill="#D0202E" font-weight="bold" text-anchor="end" textLength="16.6" lengthAdjust="spacingAndGlyphs">11.3</text>
<line x1="362.1" y1="37.4" x2="362.1" y2="62.7" stroke="#D42F3A" stroke-width="1.1"/>
<line x1="362.1" y1="62.7" x2="391.6" y2="62.7" stroke="#D42F3A" stroke-width="1.1"/>
<text x="390.4" y="46" font-size="9.2" fill="#D0202E" font-weight="bold" text-anchor="end" textLength="16.6" lengthAdjust="spacingAndGlyphs">63.4</text>
<line x1="411.9" y1="37.4" x2="411.9" y2="62.7" stroke="#D42F3A" stroke-width="1.1"/>
<line x1="411.9" y1="62.7" x2="441.4" y2="62.7" stroke="#D42F3A" stroke-width="1.1"/>
<text x="440.2" y="46" font-size="9.2" fill="#D0202E" font-weight="bold" text-anchor="end" textLength="16.6" lengthAdjust="spacingAndGlyphs">6.48</text>
<line x1="461.2" y1="37.4" x2="461.2" y2="62.7" stroke="#D42F3A" stroke-width="1.1"/>
<line x1="461.2" y1="62.7" x2="490.7" y2="62.7" stroke="#D42F3A" stroke-width="1.1"/>
<text x="489.5" y="46" font-size="9.2" fill="#D0202E" font-weight="bold" text-anchor="end" textLength="16.6" lengthAdjust="spacingAndGlyphs">27.4</text>
<line x1="312.3" y1="86.9" x2="312.3" y2="112.2" stroke="#D42F3A" stroke-width="1.1"/>
<line x1="312.3" y1="112.2" x2="341.8" y2="112.2" stroke="#D42F3A" stroke-width="1.1"/>
<text x="340.6" y="95.5" font-size="9.2" fill="#D0202E" font-weight="bold" text-anchor="end" textLength="16.6" lengthAdjust="spacingAndGlyphs">11.2</text>
<line x1="362.1" y1="86.9" x2="362.1" y2="112.2" stroke="#D42F3A" stroke-width="1.1"/>
<line x1="362.1" y1="112.2" x2="391.6" y2="112.2" stroke="#D42F3A" stroke-width="1.1"/>
<text x="390.4" y="95.5" font-size="9.2" fill="#D0202E" font-weight="bold" text-anchor="end" textLength="16.6" lengthAdjust="spacingAndGlyphs">58.2</text>
<line x1="411.9" y1="86.9" x2="411.9" y2="112.2" stroke="#D42F3A" stroke-width="1.1"/>
<line x1="411.9" y1="112.2" x2="441.4" y2="112.2" stroke="#D42F3A" stroke-width="1.1"/>
<text x="440.2" y="95.5" font-size="9.2" fill="#D0202E" font-weight="bold" text-anchor="end" textLength="16.6" lengthAdjust="spacingAndGlyphs">5.29</text>
<line x1="461.2" y1="86.9" x2="461.2" y2="112.2" stroke="#D42F3A" stroke-width="1.1"/>
<line x1="461.2" y1="112.2" x2="490.7" y2="112.2" stroke="#D42F3A" stroke-width="1.1"/>
<text x="489.5" y="95.5" font-size="9.2" fill="#D0202E" font-weight="bold" text-anchor="end" textLength="16.6" lengthAdjust="spacingAndGlyphs">6.96</text>
<text x="502" y="62.4" font-size="8.8" fill="#231F20" text-anchor="middle" stroke="#231F20" stroke-width="0.15" textLength="11.2" lengthAdjust="spacingAndGlyphs" transform="rotate(-90 502 62.4)">BM</text>
<text x="501.6" y="111" font-size="8.8" fill="#231F20" text-anchor="middle" stroke="#231F20" stroke-width="0.15" textLength="22.9" lengthAdjust="spacingAndGlyphs" transform="rotate(-90 501.6 111)">Spleen</text>
<text x="289.5" y="122.8" font-size="10" fill="#231F20" text-anchor="middle" stroke="#231F20" stroke-width="0.15" textLength="18.2" lengthAdjust="spacingAndGlyphs" transform="rotate(-90 289.5 122.8)">CD71</text>
<text x="295.8" y="144.4" font-size="10" fill="#231F20" stroke="#231F20" stroke-width="0.15" textLength="24.3" lengthAdjust="spacingAndGlyphs">CD150</text>
<text x="0.3" y="169.6" font-size="11.6" fill="#000" font-weight="bold" textLength="7.9" lengthAdjust="spacingAndGlyphs">C</text>
<text x="87.6" y="182.8" font-size="10" fill="#231F20" text-anchor="middle" stroke="#231F20" stroke-width="0.15" textLength="33.6" lengthAdjust="spacingAndGlyphs">sCFU-E</text>
<line x1="43.1" y1="189.5" x2="43.1" y2="281.2" stroke="#231F20" stroke-width="1.3"/>
<line x1="40.3" y1="191.4" x2="43.1" y2="191.4" stroke="#231F20" stroke-width="1"/>
<text x="36.8" y="194.4" font-size="8.7" fill="#231F20" text-anchor="end" stroke="#231F20" stroke-width="0.15" textLength="4.45" lengthAdjust="spacingAndGlyphs">1</text>
<line x1="40.3" y1="209.6" x2="43.1" y2="209.6" stroke="#231F20" stroke-width="1"/>
<text x="36.8" y="212.6" font-size="8.7" fill="#231F20" text-anchor="end" stroke="#231F20" stroke-width="0.15" textLength="11.13" lengthAdjust="spacingAndGlyphs">0.8</text>
<line x1="40.3" y1="227.4" x2="43.1" y2="227.4" stroke="#231F20" stroke-width="1"/>
<text x="36.8" y="230.4" font-size="8.7" fill="#231F20" text-anchor="end" stroke="#231F20" stroke-width="0.15" textLength="11.13" lengthAdjust="spacingAndGlyphs">0.6</text>
<line x1="40.3" y1="245.3" x2="43.1" y2="245.3" stroke="#231F20" stroke-width="1"/>
<text x="36.8" y="248.3" font-size="8.7" fill="#231F20" text-anchor="end" stroke="#231F20" stroke-width="0.15" textLength="11.13" lengthAdjust="spacingAndGlyphs">0.4</text>
<line x1="40.3" y1="263.3" x2="43.1" y2="263.3" stroke="#231F20" stroke-width="1"/>
<text x="36.8" y="266.3" font-size="8.7" fill="#231F20" text-anchor="end" stroke="#231F20" stroke-width="0.15" textLength="11.13" lengthAdjust="spacingAndGlyphs">0.2</text>
<line x1="40.3" y1="281.2" x2="43.1" y2="281.2" stroke="#231F20" stroke-width="1"/>
<text x="36.8" y="284.2" font-size="8.7" fill="#231F20" text-anchor="end" stroke="#231F20" stroke-width="0.15" textLength="4.45" lengthAdjust="spacingAndGlyphs">0</text>
<line x1="42.45" y1="281.2" x2="133.2" y2="281.2" stroke="#231F20" stroke-width="1.4"/>
<rect x="47" y="280.7" width="5.8" height="0.5" fill="#E8958A"/>
<rect x="56.5" y="261.1" width="6.7" height="20.1" fill="#C40A2C"/>
<line x1="59.85" y1="257.1" x2="59.85" y2="261.1" stroke="#4a4a4a" stroke-width="1"/>
<line x1="58.05" y1="257.5" x2="61.65" y2="257.5" stroke="#1a1a1a" stroke-width="1.5"/>
<rect x="66.8" y="280.8" width="6" height="0.4" fill="#A2A5C8"/>
<rect x="76.2" y="274.3" width="6.8" height="6.9" fill="#18528C"/>
<line x1="79.6" y1="269.4" x2="79.6" y2="274.3" stroke="#4a4a4a" stroke-width="1"/>
<line x1="77.8" y1="269.8" x2="81.4" y2="269.8" stroke="#1a1a1a" stroke-width="1.5"/>
<rect x="92.7" y="273.9" width="6.2" height="7.3" fill="#E8958A"/>
<line x1="95.8" y1="272.5" x2="95.8" y2="273.9" stroke="#4a4a4a" stroke-width="1"/>
<line x1="94" y1="272.9" x2="97.6" y2="272.9" stroke="#1a1a1a" stroke-width="1.5"/>
<rect x="102.5" y="224.2" width="6.6" height="57" fill="#C40A2C"/>
<line x1="105.8" y1="211.4" x2="105.8" y2="224.2" stroke="#4a4a4a" stroke-width="1"/>
<line x1="104" y1="211.8" x2="107.6" y2="211.8" stroke="#1a1a1a" stroke-width="1.5"/>
<rect x="112.2" y="273" width="6.8" height="8.2" fill="#A2A5C8"/>
<line x1="115.6" y1="269.7" x2="115.6" y2="273" stroke="#4a4a4a" stroke-width="1"/>
<line x1="113.8" y1="270.1" x2="117.4" y2="270.1" stroke="#1a1a1a" stroke-width="1.5"/>
<rect x="121.9" y="275.2" width="6.8" height="6" fill="#18528C"/>
<line x1="125.3" y1="271.2" x2="125.3" y2="275.2" stroke="#4a4a4a" stroke-width="1"/>
<line x1="123.5" y1="271.6" x2="127.1" y2="271.6" stroke="#1a1a1a" stroke-width="1.5"/>
<text x="59.7" y="255.3" font-size="8.8" fill="#2a2a2a" font-weight="bold" text-anchor="middle">**</text>
<polyline points="59.2,245.6 59.2,240.1 79.7,240.1 79.7,261.5" fill="none" stroke="#333" stroke-width="1.1"/>
<text x="69.8" y="239.2" font-size="8.8" fill="#2a2a2a" font-weight="bold" text-anchor="middle">**</text>
<text x="105.8" y="209.4" font-size="8.8" fill="#2a2a2a" font-weight="bold" text-anchor="middle">**</text>
<polyline points="105.8,201.7 105.8,197.1 125,197.1 125,261.1" fill="none" stroke="#333" stroke-width="1.1"/>
<text x="115" y="197.2" font-size="8.8" fill="#2a2a2a" font-weight="bold" text-anchor="middle">**</text>
<text x="19.3" y="235.4" font-size="10" fill="#231F20" text-anchor="middle" stroke="#231F20" stroke-width="0.15" textLength="47.9" lengthAdjust="spacingAndGlyphs" transform="rotate(-90 19.3 235.4)">% of live cells</text>
<text x="64.3" y="291.3" font-size="8.5" fill="#231F20" text-anchor="middle" stroke="#231F20" stroke-width="0.15" textLength="12.8" lengthAdjust="spacingAndGlyphs">BM</text>
<text x="110.2" y="291.3" font-size="8.5" fill="#231F20" text-anchor="middle" stroke="#231F20" stroke-width="0.15" textLength="9.6" lengthAdjust="spacingAndGlyphs">SP</text>
<rect x="138.1" y="203.6" width="3.8" height="3.5" fill="#E8958A"/>
<text x="145.7" y="207.4" font-size="8.2" fill="#231F20" stroke="#231F20" stroke-width="0.15" textLength="40.9" lengthAdjust="spacingAndGlyphs">EpoR/JAK2</text>
<rect x="138.1" y="215" width="3.8" height="3.5" fill="#C40A2C"/>
<text x="145.7" y="218.8" font-size="8.2" fill="#231F20" stroke="#231F20" stroke-width="0.15" textLength="50.7" lengthAdjust="spacingAndGlyphs">EpoR/JAK2VF</text>
<rect x="138.1" y="226.4" width="3.8" height="3.5" fill="#A2A5C8"/>
<text x="145.7" y="230.2" font-size="8.2" fill="#231F20" stroke="#231F20" stroke-width="0.15" textLength="65.4" lengthAdjust="spacingAndGlyphs">EpoR (Core)/JAK2</text>
<rect x="138.1" y="237.9" width="3.8" height="3.5" fill="#18528C"/>
<text x="145.7" y="241.6" font-size="8.2" fill="#231F20" stroke="#231F20" stroke-width="0.15" textLength="74.9" lengthAdjust="spacingAndGlyphs">EpoR (Core)/JAK2VF</text>
<text x="236.2" y="169.5" font-size="11.6" fill="#000" font-weight="bold" textLength="9" lengthAdjust="spacingAndGlyphs">D</text>
<text x="245.1" y="191" font-size="7.8" fill="#231F20" stroke="#231F20" stroke-width="0.15" textLength="20.7" lengthAdjust="spacingAndGlyphs">EpoR:</text>
<text x="283.2" y="191" font-size="7.8" fill="#231F20" text-anchor="middle" stroke="#231F20" stroke-width="0.15" textLength="11" lengthAdjust="spacingAndGlyphs">WT</text>
<text x="311" y="191" font-size="7.8" fill="#231F20" text-anchor="middle" stroke="#231F20" stroke-width="0.15" textLength="17.4" lengthAdjust="spacingAndGlyphs">Core</text>
<text x="339.4" y="191" font-size="7.8" fill="#231F20" text-anchor="middle" stroke="#231F20" stroke-width="0.15" textLength="11.1" lengthAdjust="spacingAndGlyphs">WT</text>
<text x="367.5" y="191" font-size="7.8" fill="#231F20" text-anchor="middle" stroke="#231F20" stroke-width="0.15" textLength="17.3" lengthAdjust="spacingAndGlyphs">Core</text>
<line x1="269.3" y1="194.1" x2="378.5" y2="194.1" stroke="#444" stroke-width="1.1"/>
<text x="245.1" y="205.8" font-size="7.8" fill="#231F20" stroke="#231F20" stroke-width="0.15" textLength="20.7" lengthAdjust="spacingAndGlyphs">JAK2:</text>
<text x="296.5" y="205.8" font-size="7.8" fill="#231F20" text-anchor="middle" stroke="#231F20" stroke-width="0.15" textLength="11.3" lengthAdjust="spacingAndGlyphs">WT</text>
<text x="352.9" y="205.8" font-size="7.8" fill="#231F20" text-anchor="middle" stroke="#231F20" stroke-width="0.15" textLength="8" lengthAdjust="spacingAndGlyphs">VF</text>
<line x1="270.3" y1="208.9" x2="322.8" y2="208.9" stroke="#444" stroke-width="1.1"/>
<line x1="326.9" y1="208.9" x2="378.5" y2="208.9" stroke="#444" stroke-width="1.1"/>
<defs><linearGradient id="pbg" x1="0" y1="0" x2="1" y2="0"><stop offset="0" stop-color="#92B9D1"/><stop offset="0.5" stop-color="#9CC1D7"/><stop offset="1" stop-color="#8FB6CE"/></linearGradient><pattern id="tex" width="2.6" height="2.6" patternUnits="userSpaceOnUse"><rect width="2.6" height="2.6" fill="url(#pbg)"/><rect x="0" y="0" width="1" height="1" fill="#A8C6DA" opacity="0.55"/><rect x="1.3" y="1.3" width="1" height="1" fill="#7EA3BE" opacity="0.45"/></pattern><radialGradient id="sp1" cx="0.4" cy="0.45" r="0.7"><stop offset="0" stop-color="#BC3520"/><stop offset="0.6" stop-color="#A02216"/><stop offset="1" stop-color="#5A100A"/></radialGradient><radialGradient id="sp3" cx="0.3" cy="0.25" r="0.9"><stop offset="0" stop-color="#A2421F"/><stop offset="0.3" stop-color="#7A220E"/><stop offset="0.7" stop-color="#5A1408"/><stop offset="1" stop-color="#2A0604"/></radialGradient><radialGradient id="sp4" cx="0.6" cy="0.55" r="0.7"><stop offset="0" stop-color="#A0401A"/><stop offset="0.6" stop-color="#6A200E"/><stop offset="1" stop-color="#2A0A05"/></radialGradient></defs>
<rect x="268.1" y="212.5" width="111.6" height="44.8" fill="url(#tex)"/>
<rect x="295.5" y="212.5" width="1.4" height="44.8" fill="#3C4A56"/>
<rect x="323.4" y="212.5" width="1.4" height="44.8" fill="#3C4A56"/>
<rect x="352.2" y="212.5" width="1.4" height="44.8" fill="#3C4A56"/>
<rect x="268.1" y="212.5" width="111.6" height="44.8" fill="none" stroke="#6E8799" stroke-width="0.7"/>
<path d="M284 226.2 C279.4 226.8 276.2 231.5 276.2 236.6 C276.2 241.4 279 245 283 245.6 C285.4 245.9 286 243.6 284.6 241.8 C283.2 240 282.9 237.6 283.1 235.2 C283.3 232.8 284.4 231.4 285.6 230 C286.8 228.4 286.2 226 284 226.2 Z" fill="url(#sp1)"/>
<path d="M280.5 241.5 C281.5 243.2 283 244 284 243.2" fill="none" stroke="#E8803A" stroke-width="1.2" opacity="0.8"/>
<ellipse cx="311.3" cy="234.4" rx="3.4" ry="10.4" transform="rotate(15 311.3 234.2)" fill="url(#sp1)" stroke="#7A1E10" stroke-width="0.5"/>
<path d="M339.5 216.2 C344 215.6 346.8 218.5 346.6 223 C346.4 228 345.2 234 344.8 240 C344.5 246 344 251.5 341 252.8 C338.5 253.8 336.2 251 335.8 246 C335.3 240 334.3 234 334 228 C333.8 222 335.5 216.8 339.5 216.2 Z" fill="url(#sp3)"/>
<ellipse cx="338" cy="221" rx="2" ry="1.4" fill="#D07040" opacity="0.7"/>
<path d="M368.9 224.8 C371.2 225.3 372 229.5 371.8 234.5 C371.6 240 370.3 245.5 367.8 247.4 C366.2 248.4 364.7 247.3 364.8 244.5 C365 239 365.8 232.5 366.6 228.5 C367.1 226.2 367.9 224.6 368.9 224.8 Z" fill="url(#sp4)"/>
<line x1="428.3" y1="183.5" x2="428.3" y2="252.6" stroke="#231F20" stroke-width="1.3"/>
<line x1="425.5" y1="185.6" x2="428.3" y2="185.6" stroke="#231F20" stroke-width="1"/>
<text x="422" y="188.6" font-size="8.7" fill="#231F20" text-anchor="end" stroke="#231F20" stroke-width="0.15" textLength="15.58" lengthAdjust="spacingAndGlyphs">0.04</text>
<line x1="425.5" y1="202.2" x2="428.3" y2="202.2" stroke="#231F20" stroke-width="1"/>
<text x="422" y="205.2" font-size="8.7" fill="#231F20" text-anchor="end" stroke="#231F20" stroke-width="0.15" textLength="15.58" lengthAdjust="spacingAndGlyphs">0.03</text>
<line x1="425.5" y1="219" x2="428.3" y2="219" stroke="#231F20" stroke-width="1"/>
<text x="422" y="222" font-size="8.7" fill="#231F20" text-anchor="end" stroke="#231F20" stroke-width="0.15" textLength="15.58" lengthAdjust="spacingAndGlyphs">0.02</text>
<line x1="425.5" y1="235.6" x2="428.3" y2="235.6" stroke="#231F20" stroke-width="1"/>
<text x="422" y="238.6" font-size="8.7" fill="#231F20" text-anchor="end" stroke="#231F20" stroke-width="0.15" textLength="15.58" lengthAdjust="spacingAndGlyphs">0.01</text>
<line x1="425.5" y1="252.6" x2="428.3" y2="252.6" stroke="#231F20" stroke-width="1"/>
<text x="422" y="255.6" font-size="8.7" fill="#231F20" text-anchor="end" stroke="#231F20" stroke-width="0.15" textLength="4.45" lengthAdjust="spacingAndGlyphs">0</text>
<line x1="427.65" y1="252.6" x2="495.7" y2="252.6" stroke="#231F20" stroke-width="1.4"/>
<rect x="432.5" y="248.6" width="8.1" height="4" fill="#C56A18"/>
<line x1="436.55" y1="247.2" x2="436.55" y2="248.6" stroke="#4a4a4a" stroke-width="1"/>
<line x1="434.75" y1="247.6" x2="438.35" y2="247.6" stroke="#1a1a1a" stroke-width="1.5"/>
<rect x="446.9" y="248.6" width="8.4" height="4" fill="#C56A18"/>
<line x1="451.1" y1="247.2" x2="451.1" y2="248.6" stroke="#4a4a4a" stroke-width="1"/>
<line x1="449.3" y1="247.6" x2="452.9" y2="247.6" stroke="#1a1a1a" stroke-width="1.5"/>
<rect x="469" y="210.1" width="8" height="42.5" fill="#C56A18"/>
<line x1="473" y1="200.3" x2="473" y2="210.1" stroke="#4a4a4a" stroke-width="1"/>
<line x1="471.2" y1="200.7" x2="474.8" y2="200.7" stroke="#1a1a1a" stroke-width="1.5"/>
<rect x="483" y="246" width="8.1" height="6.6" fill="#C56A18"/>
<line x1="487.05" y1="244.3" x2="487.05" y2="246" stroke="#4a4a4a" stroke-width="1"/>
<line x1="485.25" y1="244.7" x2="488.85" y2="244.7" stroke="#1a1a1a" stroke-width="1.5"/>
<polyline points="435.4,233.4 435.4,183.9 470,183.9 470,189.4" fill="none" stroke="#333" stroke-width="1.1"/>
<polyline points="474.4,189.4 474.4,183.9 487.8,183.9 487.8,233.9" fill="none" stroke="#333" stroke-width="1.1"/>
<text x="452.8" y="183.7" font-size="8.8" fill="#2a2a2a" font-weight="bold" text-anchor="middle">**</text>
<text x="482.7" y="183.7" font-size="8.8" fill="#2a2a2a" font-weight="bold" text-anchor="middle">**</text>
<text x="399.8" y="216.6" font-size="10" fill="#231F20" text-anchor="middle" stroke="#231F20" stroke-width="0.15" textLength="71.7" lengthAdjust="spacingAndGlyphs" transform="rotate(-90 399.8 216.6)">Spleen/body weight</text>
<text x="399.4" y="263.1" font-size="8.5" fill="#231F20" stroke="#231F20" stroke-width="0.15" textLength="22.9" lengthAdjust="spacingAndGlyphs">EpoR:</text>
<text x="399.4" y="274.2" font-size="8.5" fill="#231F20" stroke="#231F20" stroke-width="0.15" textLength="22.9" lengthAdjust="spacingAndGlyphs">JAK2:</text>
<text x="433" y="263.1" font-size="8.5" fill="#231F20" text-anchor="middle" stroke="#231F20" stroke-width="0.15" textLength="13.5" lengthAdjust="spacingAndGlyphs">WT</text>
<text x="452.2" y="263.1" font-size="8.5" fill="#231F20" text-anchor="middle" stroke="#231F20" stroke-width="0.15" textLength="18.2" lengthAdjust="spacingAndGlyphs">Core</text>
<text x="473.5" y="263.1" font-size="8.5" fill="#231F20" text-anchor="middle" stroke="#231F20" stroke-width="0.15" textLength="13.6" lengthAdjust="spacingAndGlyphs">WT</text>
<text x="491.2" y="263.1" font-size="8.5" fill="#231F20" text-anchor="middle" stroke="#231F20" stroke-width="0.15" textLength="17.7" lengthAdjust="spacingAndGlyphs">Core</text>
<text x="433.5" y="274.2" font-size="8.5" fill="#231F20" text-anchor="middle" stroke="#231F20" stroke-width="0.15" textLength="12.5" lengthAdjust="spacingAndGlyphs">WT</text>
<text x="451.9" y="274.2" font-size="8.5" fill="#231F20" text-anchor="middle" stroke="#231F20" stroke-width="0.15" textLength="13.5" lengthAdjust="spacingAndGlyphs">WT</text>
<text x="473.7" y="274.2" font-size="8.5" fill="#231F20" text-anchor="middle" stroke="#231F20" stroke-width="0.15" textLength="8.9" lengthAdjust="spacingAndGlyphs">VF</text>
<text x="491.5" y="274.2" font-size="8.5" fill="#231F20" text-anchor="middle" stroke="#231F20" stroke-width="0.15" textLength="9.1" lengthAdjust="spacingAndGlyphs">VF</text>
<text x="0.3" y="316.7" font-size="11.6" fill="#000" font-weight="bold" textLength="7.1" lengthAdjust="spacingAndGlyphs">E</text>
<text x="87.5" y="330.5" font-size="10" fill="#231F20" text-anchor="middle" stroke="#231F20" stroke-width="0.15" textLength="33.4" lengthAdjust="spacingAndGlyphs">sCFU-E</text>
<line x1="42.2" y1="337" x2="42.2" y2="428.5" stroke="#231F20" stroke-width="1.3"/>
<line x1="39.4" y1="339.3" x2="42.2" y2="339.3" stroke="#231F20" stroke-width="1"/>
<text x="35.9" y="342.3" font-size="8.7" fill="#231F20" text-anchor="end" stroke="#231F20" stroke-width="0.15" textLength="8.9" lengthAdjust="spacingAndGlyphs">40</text>
<line x1="39.4" y1="361.5" x2="42.2" y2="361.5" stroke="#231F20" stroke-width="1"/>
<text x="35.9" y="364.5" font-size="8.7" fill="#231F20" text-anchor="end" stroke="#231F20" stroke-width="0.15" textLength="8.9" lengthAdjust="spacingAndGlyphs">30</text>
<line x1="39.4" y1="383.7" x2="42.2" y2="383.7" stroke="#231F20" stroke-width="1"/>
<text x="35.9" y="386.7" font-size="8.7" fill="#231F20" text-anchor="end" stroke="#231F20" stroke-width="0.15" textLength="8.9" lengthAdjust="spacingAndGlyphs">20</text>
<line x1="39.4" y1="406.2" x2="42.2" y2="406.2" stroke="#231F20" stroke-width="1"/>
<text x="35.9" y="409.2" font-size="8.7" fill="#231F20" text-anchor="end" stroke="#231F20" stroke-width="0.15" textLength="8.9" lengthAdjust="spacingAndGlyphs">10</text>
<line x1="39.4" y1="428.5" x2="42.2" y2="428.5" stroke="#231F20" stroke-width="1"/>
<text x="35.9" y="431.5" font-size="8.7" fill="#231F20" text-anchor="end" stroke="#231F20" stroke-width="0.15" textLength="4.45" lengthAdjust="spacingAndGlyphs">0</text>
<line x1="41.55" y1="428.5" x2="134.5" y2="428.5" stroke="#231F20" stroke-width="1.4"/>
<rect x="47.3" y="427.8" width="4.2" height="0.7" fill="#E8958A"/>
<rect x="56.7" y="417.7" width="5.6" height="10.8" fill="#C40A2C"/>
<line x1="59.5" y1="416.2" x2="59.5" y2="417.7" stroke="#4a4a4a" stroke-width="1"/>
<line x1="57.7" y1="416.6" x2="61.3" y2="416.6" stroke="#1a1a1a" stroke-width="1.5"/>
<rect x="66.9" y="425.5" width="4.9" height="3" fill="#A2A5C8"/>
<line x1="69.35" y1="425" x2="69.35" y2="425.5" stroke="#4a4a4a" stroke-width="1"/>
<line x1="67.55" y1="425.4" x2="71.15" y2="425.4" stroke="#1a1a1a" stroke-width="1.5"/>
<rect x="76.2" y="421.4" width="5.6" height="7.1" fill="#18528C"/>
<line x1="79" y1="419.9" x2="79" y2="421.4" stroke="#4a4a4a" stroke-width="1"/>
<line x1="77.2" y1="420.3" x2="80.8" y2="420.3" stroke="#1a1a1a" stroke-width="1.5"/>
<rect x="93.8" y="426.5" width="4.4" height="2" fill="#E8958A"/>
<rect x="102.9" y="367.7" width="5.6" height="60.8" fill="#C40A2C"/>
<line x1="105.7" y1="349.6" x2="105.7" y2="367.7" stroke="#4a4a4a" stroke-width="1"/>
<line x1="103.9" y1="350" x2="107.5" y2="350" stroke="#1a1a1a" stroke-width="1.5"/>
<rect x="113.8" y="427.4" width="4.2" height="1.1" fill="#A2A5C8"/>
<rect x="122.9" y="421.4" width="5.6" height="7.1" fill="#18528C"/>
<line x1="125.7" y1="418.1" x2="125.7" y2="421.4" stroke="#4a4a4a" stroke-width="1"/>
<line x1="123.9" y1="418.5" x2="127.5" y2="418.5" stroke="#1a1a1a" stroke-width="1.5"/>
<text x="59.5" y="414.3" font-size="8.8" fill="#2a2a2a" font-weight="bold" text-anchor="middle">**</text>
<text x="79" y="419.9" font-size="8.8" fill="#2a2a2a" font-weight="bold" text-anchor="middle">**</text>
<polyline points="59.5,402.8 59.5,396.2 80.5,396.2 80.5,409.3" fill="none" stroke="#333" stroke-width="1.1"/>
<text x="69.7" y="396.2" font-size="8.8" fill="#2a2a2a" font-weight="bold" text-anchor="middle">**</text>
<text x="105.5" y="349.6" font-size="8.8" fill="#2a2a2a" font-weight="bold" text-anchor="middle">**</text>
<polyline points="106.7,342.1 106.7,337.1 125.3,337.1 125.3,412.5" fill="none" stroke="#333" stroke-width="1.1"/>
<text x="116" y="335.9" font-size="8.8" fill="#2a2a2a" font-weight="bold" text-anchor="middle">**</text>
<text x="21.5" y="382.5" font-size="10" fill="#231F20" stroke="#231F20" stroke-width="0.15" text-anchor="middle" transform="rotate(-90 21.5 382.5)" textLength="72" lengthAdjust="spacingAndGlyphs">Cell number ( × 10<tspan font-size="6.5" dy="-3.6">4</tspan><tspan dy="3.6">)</tspan></text>
<text x="63.9" y="438.6" font-size="8.5" fill="#231F20" text-anchor="middle" stroke="#231F20" stroke-width="0.15" textLength="12.5" lengthAdjust="spacingAndGlyphs">BM</text>
<text x="110" y="438.6" font-size="8.5" fill="#231F20" text-anchor="middle" stroke="#231F20" stroke-width="0.15" textLength="9" lengthAdjust="spacingAndGlyphs">SP</text>
<text x="232.6" y="330.3" font-size="10" fill="#231F20" text-anchor="middle" stroke="#231F20" stroke-width="0.15" textLength="28.8" lengthAdjust="spacingAndGlyphs">CFU-E</text>
<line x1="187.2" y1="337" x2="187.2" y2="428.7" stroke="#231F20" stroke-width="1.3"/>
<line x1="184.4" y1="339.3" x2="187.2" y2="339.3" stroke="#231F20" stroke-width="1"/>
<text x="180.9" y="342.3" font-size="8.7" fill="#231F20" text-anchor="end" stroke="#231F20" stroke-width="0.15" textLength="13.35" lengthAdjust="spacingAndGlyphs">200</text>
<line x1="184.4" y1="361.5" x2="187.2" y2="361.5" stroke="#231F20" stroke-width="1"/>
<text x="180.9" y="364.5" font-size="8.7" fill="#231F20" text-anchor="end" stroke="#231F20" stroke-width="0.15" textLength="13.35" lengthAdjust="spacingAndGlyphs">150</text>
<line x1="184.4" y1="383.7" x2="187.2" y2="383.7" stroke="#231F20" stroke-width="1"/>
<text x="180.9" y="386.7" font-size="8.7" fill="#231F20" text-anchor="end" stroke="#231F20" stroke-width="0.15" textLength="13.35" lengthAdjust="spacingAndGlyphs">100</text>
<line x1="184.4" y1="406.2" x2="187.2" y2="406.2" stroke="#231F20" stroke-width="1"/>
<text x="180.9" y="409.2" font-size="8.7" fill="#231F20" text-anchor="end" stroke="#231F20" stroke-width="0.15" textLength="8.9" lengthAdjust="spacingAndGlyphs">50</text>
<line x1="184.4" y1="428.7" x2="187.2" y2="428.7" stroke="#231F20" stroke-width="1"/>
<text x="180.9" y="431.7" font-size="8.7" fill="#231F20" text-anchor="end" stroke="#231F20" stroke-width="0.15" textLength="4.45" lengthAdjust="spacingAndGlyphs">0</text>
<line x1="186.55" y1="428.7" x2="278.2" y2="428.7" stroke="#231F20" stroke-width="1.4"/>
<rect x="191.9" y="424.1" width="5" height="4.6" fill="#E8958A"/>
<rect x="201.8" y="423.6" width="5.5" height="5.1" fill="#C40A2C"/>
<line x1="204.55" y1="422.3" x2="204.55" y2="423.6" stroke="#4a4a4a" stroke-width="1"/>
<line x1="202.75" y1="422.7" x2="206.35" y2="422.7" stroke="#1a1a1a" stroke-width="1.5"/>
<rect x="211.5" y="419.6" width="5.5" height="9.1" fill="#A2A5C8"/>
<line x1="214.25" y1="418.9" x2="214.25" y2="419.6" stroke="#4a4a4a" stroke-width="1"/>
<line x1="212.45" y1="419.3" x2="216.05" y2="419.3" stroke="#1a1a1a" stroke-width="1.5"/>
<rect x="221.2" y="422.9" width="5.8" height="5.8" fill="#18528C"/>
<line x1="224.1" y1="421" x2="224.1" y2="422.9" stroke="#4a4a4a" stroke-width="1"/>
<line x1="222.3" y1="421.4" x2="225.9" y2="421.4" stroke="#1a1a1a" stroke-width="1.5"/>
<rect x="238" y="424.7" width="5.1" height="4" fill="#E8958A"/>
<rect x="248.1" y="375.7" width="5.8" height="53" fill="#C40A2C"/>
<line x1="251" y1="355.2" x2="251" y2="375.7" stroke="#4a4a4a" stroke-width="1"/>
<line x1="249.2" y1="355.6" x2="252.8" y2="355.6" stroke="#1a1a1a" stroke-width="1.5"/>
<rect x="258.2" y="428.2" width="5" height="0.5" fill="#A2A5C8"/>
<rect x="268.2" y="422.3" width="5.5" height="6.4" fill="#18528C"/>
<line x1="270.95" y1="419" x2="270.95" y2="422.3" stroke="#4a4a4a" stroke-width="1"/>
<line x1="269.15" y1="419.4" x2="272.75" y2="419.4" stroke="#1a1a1a" stroke-width="1.5"/>
<text x="204.2" y="420.9" font-size="8.8" fill="#2a2a2a" font-weight="bold" text-anchor="middle">**</text>
<text x="224.3" y="420.9" font-size="8.8" fill="#2a2a2a" font-weight="bold" text-anchor="middle">**</text>
<text x="250.8" y="355.3" font-size="8.8" fill="#2a2a2a" font-weight="bold" text-anchor="middle">**</text>
<polyline points="250.4,344.6 250.4,340.1 270.6,340.1 270.6,417.4" fill="none" stroke="#333" stroke-width="1.1"/>
<text x="260.9" y="340.1" font-size="8.8" fill="#2a2a2a" font-weight="bold" text-anchor="middle">**</text>
<text x="161.6" y="382.5" font-size="10" fill="#231F20" stroke="#231F20" stroke-width="0.15" text-anchor="middle" transform="rotate(-90 161.6 382.5)" textLength="72" lengthAdjust="spacingAndGlyphs">Cell number ( × 10<tspan font-size="6.5" dy="-3.6">4</tspan><tspan dy="3.6">)</tspan></text>
<text x="208.8" y="437.9" font-size="8.5" fill="#231F20" text-anchor="middle" stroke="#231F20" stroke-width="0.15" textLength="12.8" lengthAdjust="spacingAndGlyphs">BM</text>
<text x="254.8" y="437.9" font-size="8.5" fill="#231F20" text-anchor="middle" stroke="#231F20" stroke-width="0.15" textLength="9.7" lengthAdjust="spacingAndGlyphs">SP</text>
<text x="365.6" y="322" font-size="10.8" fill="#231F20" stroke="#231F20" stroke-width="0.15" textLength="29.8" lengthAdjust="spacingAndGlyphs">Ter119</text>
<text x="395.9" y="319.3" font-size="5.5" fill="#231F20" stroke="#231F20" stroke-width="0.15">+</text>
<line x1="337.3" y1="337" x2="337.3" y2="380.6" stroke="#231F20" stroke-width="1.3"/>
<line x1="337.3" y1="386.6" x2="337.3" y2="428.3" stroke="#231F20" stroke-width="1.3"/>
<line x1="335.8" y1="380.3" x2="339.4" y2="383.5" stroke="#231F20" stroke-width="1"/>
<line x1="335.3" y1="384.4" x2="339.4" y2="388.3" stroke="#231F20" stroke-width="1"/>
<line x1="334.5" y1="339" x2="337.3" y2="339" stroke="#231F20" stroke-width="1"/>
<text x="331" y="342" font-size="8.7" fill="#231F20" text-anchor="end" stroke="#231F20" stroke-width="0.15" textLength="17.81" lengthAdjust="spacingAndGlyphs">1000</text>
<line x1="334.5" y1="352.2" x2="337.3" y2="352.2" stroke="#231F20" stroke-width="1"/>
<text x="331" y="355.2" font-size="8.7" fill="#231F20" text-anchor="end" stroke="#231F20" stroke-width="0.15" textLength="13.35" lengthAdjust="spacingAndGlyphs">750</text>
<line x1="334.5" y1="365.2" x2="337.3" y2="365.2" stroke="#231F20" stroke-width="1"/>
<text x="331" y="368.2" font-size="8.7" fill="#231F20" text-anchor="end" stroke="#231F20" stroke-width="0.15" textLength="13.35" lengthAdjust="spacingAndGlyphs">500</text>
<line x1="334.5" y1="380.1" x2="337.3" y2="380.1" stroke="#231F20" stroke-width="1"/>
<text x="331" y="383.1" font-size="8.7" fill="#231F20" text-anchor="end" stroke="#231F20" stroke-width="0.15" textLength="13.35" lengthAdjust="spacingAndGlyphs">200</text>
<line x1="334.5" y1="386.8" x2="337.3" y2="386.8" stroke="#231F20" stroke-width="1"/>
<text x="331" y="389.8" font-size="8.7" fill="#231F20" text-anchor="end" stroke="#231F20" stroke-width="0.15" textLength="13.35" lengthAdjust="spacingAndGlyphs">100</text>
<line x1="334.5" y1="397.3" x2="337.3" y2="397.3" stroke="#231F20" stroke-width="1"/>
<text x="331" y="400.3" font-size="8.7" fill="#231F20" text-anchor="end" stroke="#231F20" stroke-width="0.15" textLength="8.9" lengthAdjust="spacingAndGlyphs">75</text>
<line x1="334.5" y1="407.7" x2="337.3" y2="407.7" stroke="#231F20" stroke-width="1"/>
<text x="331" y="410.7" font-size="8.7" fill="#231F20" text-anchor="end" stroke="#231F20" stroke-width="0.15" textLength="8.9" lengthAdjust="spacingAndGlyphs">50</text>
<line x1="334.5" y1="418.1" x2="337.3" y2="418.1" stroke="#231F20" stroke-width="1"/>
<text x="331" y="421.1" font-size="8.7" fill="#231F20" text-anchor="end" stroke="#231F20" stroke-width="0.15" textLength="8.9" lengthAdjust="spacingAndGlyphs">25</text>
<line x1="334.5" y1="428.3" x2="337.3" y2="428.3" stroke="#231F20" stroke-width="1"/>
<text x="331" y="431.3" font-size="8.7" fill="#231F20" text-anchor="end" stroke="#231F20" stroke-width="0.15" textLength="4.45" lengthAdjust="spacingAndGlyphs">0</text>
<line x1="336.65" y1="428.3" x2="428.2" y2="428.3" stroke="#231F20" stroke-width="1.4"/>
<rect x="341.2" y="411.5" width="5.7" height="16.8" fill="#E8958A"/>
<line x1="344.05" y1="411.2" x2="344.05" y2="411.5" stroke="#4a4a4a" stroke-width="1"/>
<line x1="342.25" y1="411.6" x2="345.85" y2="411.6" stroke="#1a1a1a" stroke-width="1.5"/>
<rect x="351.1" y="409.1" width="5.8" height="19.2" fill="#C40A2C"/>
<line x1="354" y1="407.3" x2="354" y2="409.1" stroke="#4a4a4a" stroke-width="1"/>
<line x1="352.2" y1="407.7" x2="355.8" y2="407.7" stroke="#1a1a1a" stroke-width="1.5"/>
<rect x="361" y="411.8" width="5.6" height="16.5" fill="#A2A5C8"/>
<line x1="363.8" y1="410" x2="363.8" y2="411.8" stroke="#4a4a4a" stroke-width="1"/>
<line x1="362" y1="410.4" x2="365.6" y2="410.4" stroke="#1a1a1a" stroke-width="1.5"/>
<rect x="371" y="412.4" width="5.7" height="15.9" fill="#18528C"/>
<line x1="373.85" y1="410" x2="373.85" y2="412.4" stroke="#4a4a4a" stroke-width="1"/>
<line x1="372.05" y1="410.4" x2="375.65" y2="410.4" stroke="#1a1a1a" stroke-width="1.5"/>
<rect x="388" y="401.4" width="5.5" height="26.9" fill="#E8958A"/>
<line x1="390.75" y1="398.1" x2="390.75" y2="401.4" stroke="#4a4a4a" stroke-width="1"/>
<line x1="388.95" y1="398.5" x2="392.55" y2="398.5" stroke="#1a1a1a" stroke-width="1.5"/>
<rect x="397.7" y="353.9" width="5.9" height="74.4" fill="#C40A2C"/>
<line x1="400.65" y1="342.4" x2="400.65" y2="353.9" stroke="#4a4a4a" stroke-width="1"/>
<line x1="398.85" y1="342.8" x2="402.45" y2="342.8" stroke="#1a1a1a" stroke-width="1.5"/>
<rect x="407.8" y="415.5" width="5.4" height="12.8" fill="#A2A5C8"/>
<line x1="410.5" y1="415.2" x2="410.5" y2="415.5" stroke="#4a4a4a" stroke-width="1"/>
<line x1="408.7" y1="415.6" x2="412.3" y2="415.6" stroke="#1a1a1a" stroke-width="1.5"/>
<rect x="417.8" y="405.4" width="5.5" height="22.9" fill="#18528C"/>
<line x1="420.55" y1="398.1" x2="420.55" y2="405.4" stroke="#4a4a4a" stroke-width="1"/>
<line x1="418.75" y1="398.5" x2="422.35" y2="398.5" stroke="#1a1a1a" stroke-width="1.5"/>
<text x="400.4" y="343" font-size="8.8" fill="#2a2a2a" font-weight="bold" text-anchor="middle">**</text>
<polyline points="400.4,336.9 400.4,334.1 420.6,334.1 420.6,394.5" fill="none" stroke="#333" stroke-width="1.1"/>
<text x="410.3" y="333.6" font-size="8.8" fill="#2a2a2a" font-weight="bold" text-anchor="middle">**</text>
<text x="307" y="382.5" font-size="10" fill="#231F20" stroke="#231F20" stroke-width="0.15" text-anchor="middle" transform="rotate(-90 307 382.5)" textLength="72" lengthAdjust="spacingAndGlyphs">Cell number ( × 10<tspan font-size="6.5" dy="-3.6">5</tspan><tspan dy="3.6">)</tspan></text>
<text x="358.4" y="438.3" font-size="8.5" fill="#231F20" text-anchor="middle" stroke="#231F20" stroke-width="0.15" textLength="12" lengthAdjust="spacingAndGlyphs">BM</text>
<text x="405" y="438.3" font-size="8.5" fill="#231F20" text-anchor="middle" stroke="#231F20" stroke-width="0.15" textLength="10" lengthAdjust="spacingAndGlyphs">SP</text>
<rect x="436.4" y="348.1" width="5.4" height="3.4" fill="#E8958A"/>
<text x="445.9" y="352.3" font-size="8.2" fill="#231F20" stroke="#231F20" stroke-width="0.15" textLength="41.1" lengthAdjust="spacingAndGlyphs">EpoR/JAK2</text>
<rect x="436.4" y="359.9" width="5.4" height="3.4" fill="#C40A2C"/>
<text x="445.9" y="364.1" font-size="8.2" fill="#231F20" stroke="#231F20" stroke-width="0.15" textLength="50.1" lengthAdjust="spacingAndGlyphs">EpoR/JAK2VF</text>
<rect x="436.4" y="371.7" width="5.4" height="3.4" fill="#A2A5C8"/>
<text x="445.9" y="375.9" font-size="8.2" fill="#231F20" stroke="#231F20" stroke-width="0.15" textLength="64.8" lengthAdjust="spacingAndGlyphs">EpoR (Core)/JAK2</text>
<rect x="436.4" y="383.5" width="5.4" height="3.4" fill="#18528C"/>
<text x="445.9" y="387.7" font-size="8.2" fill="#231F20" stroke="#231F20" stroke-width="0.15" textLength="73.7" lengthAdjust="spacingAndGlyphs">EpoR (Core)/JAK2VF</text>
<text x="3.7" y="464.3" font-size="11.6" fill="#000" font-weight="bold" textLength="6.7" lengthAdjust="spacingAndGlyphs">F</text>
<text x="80" y="473" font-size="10" fill="#231F20" text-anchor="middle" stroke="#231F20" stroke-width="0.15" textLength="28.1" lengthAdjust="spacingAndGlyphs">BFU-E</text>
<line x1="45.8" y1="480" x2="45.8" y2="550.7" stroke="#231F20" stroke-width="1.3"/>
<line x1="43" y1="482.4" x2="45.8" y2="482.4" stroke="#231F20" stroke-width="1"/>
<text x="39.5" y="485.4" font-size="8.7" fill="#231F20" text-anchor="end" stroke="#231F20" stroke-width="0.15" textLength="13.35" lengthAdjust="spacingAndGlyphs">800</text>
<line x1="43" y1="499.3" x2="45.8" y2="499.3" stroke="#231F20" stroke-width="1"/>
<text x="39.5" y="502.3" font-size="8.7" fill="#231F20" text-anchor="end" stroke="#231F20" stroke-width="0.15" textLength="13.35" lengthAdjust="spacingAndGlyphs">600</text>
<line x1="43" y1="516.5" x2="45.8" y2="516.5" stroke="#231F20" stroke-width="1"/>
<text x="39.5" y="519.5" font-size="8.7" fill="#231F20" text-anchor="end" stroke="#231F20" stroke-width="0.15" textLength="13.35" lengthAdjust="spacingAndGlyphs">400</text>
<line x1="43" y1="533.5" x2="45.8" y2="533.5" stroke="#231F20" stroke-width="1"/>
<text x="39.5" y="536.5" font-size="8.7" fill="#231F20" text-anchor="end" stroke="#231F20" stroke-width="0.15" textLength="13.35" lengthAdjust="spacingAndGlyphs">200</text>
<line x1="43" y1="550.7" x2="45.8" y2="550.7" stroke="#231F20" stroke-width="1"/>
<text x="39.5" y="553.7" font-size="8.7" fill="#231F20" text-anchor="end" stroke="#231F20" stroke-width="0.15" textLength="4.45" lengthAdjust="spacingAndGlyphs">0</text>
<line x1="45.15" y1="550.7" x2="113.7" y2="550.7" stroke="#231F20" stroke-width="1.4"/>
<line x1="45.8" y1="550.7" x2="45.8" y2="553.3" stroke="#231F20" stroke-width="1"/>
<text x="45.8" y="564.6" font-size="8.7" fill="#231F20" text-anchor="middle" stroke="#231F20" stroke-width="0.15" textLength="4.45" lengthAdjust="spacingAndGlyphs">0</text>
<line x1="67.4" y1="550.7" x2="67.4" y2="553.3" stroke="#231F20" stroke-width="1"/>
<text x="67.4" y="564.6" font-size="8.7" fill="#231F20" text-anchor="middle" stroke="#231F20" stroke-width="0.15" textLength="12.8" lengthAdjust="spacingAndGlyphs">100</text>
<line x1="89.2" y1="550.7" x2="89.2" y2="553.3" stroke="#231F20" stroke-width="1"/>
<text x="89.2" y="564.6" font-size="8.7" fill="#231F20" text-anchor="middle" stroke="#231F20" stroke-width="0.15" textLength="13" lengthAdjust="spacingAndGlyphs">200</text>
<line x1="110.8" y1="550.7" x2="110.8" y2="553.3" stroke="#231F20" stroke-width="1"/>
<text x="110.8" y="564.6" font-size="8.7" fill="#231F20" text-anchor="middle" stroke="#231F20" stroke-width="0.15" textLength="13" lengthAdjust="spacingAndGlyphs">300</text>
<text x="79.9" y="578.2" font-size="9" fill="#231F20" text-anchor="middle" stroke="#231F20" stroke-width="0.15" textLength="14.6" lengthAdjust="spacingAndGlyphs">(Hr)</text>
<text x="19.6" y="514.6" font-size="10" fill="#231F20" text-anchor="middle" stroke="#231F20" stroke-width="0.15" textLength="69.3" lengthAdjust="spacingAndGlyphs" transform="rotate(-90 19.6 514.6)">Total progeny (fold)</text>
<polyline points="45.8,550.7 56.2,550.7 61.5,550.7 77.4,548.5 82.8,549 108.8,547.2" fill="none" stroke="#18528C" stroke-width="1.4"/>
<polyline points="56.2,550.7 61.5,550.7 77.4,531.6 82.8,512.7 108.8,493.2" fill="none" stroke="#C40A2C" stroke-width="1.4"/>
<line x1="108.8" y1="490" x2="108.8" y2="496.5" stroke="#6a1020" stroke-width="0.8"/>
<line x1="107.2" y1="490" x2="110.4" y2="490" stroke="#6a1020" stroke-width="0.8"/>
<line x1="107.2" y1="496.5" x2="110.4" y2="496.5" stroke="#6a1020" stroke-width="0.8"/>
<rect x="75.1" y="529.3" width="4.6" height="4.6" fill="#C40A2C"/>
<rect x="80.5" y="510.4" width="4.6" height="4.6" fill="#C40A2C"/>
<rect x="106.5" y="490.9" width="4.6" height="4.6" fill="#C40A2C"/>
<circle cx="45.8" cy="550.7" r="2.6" fill="#18528C"/>
<rect x="54" y="548.5" width="4.4" height="4.4" fill="#18528C"/>
<rect x="59.3" y="548.5" width="4.4" height="4.4" fill="#18528C"/>
<rect x="75.2" y="546.3" width="4.4" height="4.4" fill="#18528C"/>
<rect x="80.6" y="546.8" width="4.4" height="4.4" fill="#18528C"/>
<rect x="106.6" y="545" width="4.4" height="4.4" fill="#18528C"/>
<text x="71.5" y="528.2" font-size="8.8" fill="#2a2a2a" font-weight="bold" text-anchor="middle">**</text>
<text x="82.3" y="509.2" font-size="8.8" fill="#2a2a2a" font-weight="bold" text-anchor="middle">**</text>
<text x="108.5" y="489.7" font-size="8.8" fill="#2a2a2a" font-weight="bold" text-anchor="middle">**</text>
<text x="202.4" y="473.5" font-size="10" fill="#231F20" text-anchor="middle" stroke="#231F20" stroke-width="0.15" textLength="33.6" lengthAdjust="spacingAndGlyphs">sCFU-E</text>
<line x1="168.5" y1="480" x2="168.5" y2="550.6" stroke="#231F20" stroke-width="1.3"/>
<line x1="165.7" y1="482.3" x2="168.5" y2="482.3" stroke="#231F20" stroke-width="1"/>
<text x="162.2" y="485.3" font-size="8.7" fill="#231F20" text-anchor="end" stroke="#231F20" stroke-width="0.15" textLength="13.35" lengthAdjust="spacingAndGlyphs">100</text>
<line x1="165.7" y1="495.8" x2="168.5" y2="495.8" stroke="#231F20" stroke-width="1"/>
<text x="162.2" y="498.8" font-size="8.7" fill="#231F20" text-anchor="end" stroke="#231F20" stroke-width="0.15" textLength="8.9" lengthAdjust="spacingAndGlyphs">80</text>
<line x1="165.7" y1="509.6" x2="168.5" y2="509.6" stroke="#231F20" stroke-width="1"/>
<text x="162.2" y="512.6" font-size="8.7" fill="#231F20" text-anchor="end" stroke="#231F20" stroke-width="0.15" textLength="8.9" lengthAdjust="spacingAndGlyphs">60</text>
<line x1="165.7" y1="523.1" x2="168.5" y2="523.1" stroke="#231F20" stroke-width="1"/>
<text x="162.2" y="526.1" font-size="8.7" fill="#231F20" text-anchor="end" stroke="#231F20" stroke-width="0.15" textLength="8.9" lengthAdjust="spacingAndGlyphs">40</text>
<line x1="165.7" y1="536.9" x2="168.5" y2="536.9" stroke="#231F20" stroke-width="1"/>
<text x="162.2" y="539.9" font-size="8.7" fill="#231F20" text-anchor="end" stroke="#231F20" stroke-width="0.15" textLength="8.9" lengthAdjust="spacingAndGlyphs">20</text>
<line x1="165.7" y1="550.6" x2="168.5" y2="550.6" stroke="#231F20" stroke-width="1"/>
<text x="162.2" y="553.6" font-size="8.7" fill="#231F20" text-anchor="end" stroke="#231F20" stroke-width="0.15" textLength="4.45" lengthAdjust="spacingAndGlyphs">0</text>
<line x1="167.85" y1="550.6" x2="236.2" y2="550.6" stroke="#231F20" stroke-width="1.4"/>
<line x1="168.5" y1="550.6" x2="168.5" y2="553.2" stroke="#231F20" stroke-width="1"/>
<text x="168.5" y="564.4" font-size="8.7" fill="#231F20" text-anchor="middle" stroke="#231F20" stroke-width="0.15" textLength="4.45" lengthAdjust="spacingAndGlyphs">0</text>
<line x1="184.4" y1="550.6" x2="184.4" y2="553.2" stroke="#231F20" stroke-width="1"/>
<text x="184.4" y="564.4" font-size="8.7" fill="#231F20" text-anchor="middle" stroke="#231F20" stroke-width="0.15" textLength="8.9" lengthAdjust="spacingAndGlyphs">50</text>
<line x1="200.6" y1="550.6" x2="200.6" y2="553.2" stroke="#231F20" stroke-width="1"/>
<text x="200.6" y="564.4" font-size="8.7" fill="#231F20" text-anchor="middle" stroke="#231F20" stroke-width="0.15" textLength="12" lengthAdjust="spacingAndGlyphs">100</text>
<line x1="216.6" y1="550.6" x2="216.6" y2="553.2" stroke="#231F20" stroke-width="1"/>
<text x="216.6" y="564.4" font-size="8.7" fill="#231F20" text-anchor="middle" stroke="#231F20" stroke-width="0.15" textLength="12" lengthAdjust="spacingAndGlyphs">150</text>
<line x1="232.5" y1="550.6" x2="232.5" y2="553.2" stroke="#231F20" stroke-width="1"/>
<text x="232.5" y="564.4" font-size="8.7" fill="#231F20" text-anchor="middle" stroke="#231F20" stroke-width="0.15" textLength="12" lengthAdjust="spacingAndGlyphs">200</text>
<text x="201.9" y="578.9" font-size="9" fill="#231F20" text-anchor="middle" stroke="#231F20" stroke-width="0.15" textLength="14.6" lengthAdjust="spacingAndGlyphs">(Hr)</text>
<polyline points="168.5,550.6 184.6,549.8 191.5,546.2 215.4,492.7 223.1,492.7" fill="none" stroke="#C40A2C" stroke-width="1.3"/>
<polyline points="168.5,549.6 183.8,547.7 191.5,549 215.4,549.6 223.1,550.4" fill="none" stroke="#18528C" stroke-width="1.3"/>
<line x1="215.4" y1="484.2" x2="215.4" y2="499.6" stroke="#231F20" stroke-width="0.8"/>
<line x1="213.9" y1="484.2" x2="216.9" y2="484.2" stroke="#231F20" stroke-width="0.8"/>
<line x1="213.9" y1="499.6" x2="216.9" y2="499.6" stroke="#231F20" stroke-width="0.8"/>
<line x1="223.1" y1="488.8" x2="223.1" y2="496.5" stroke="#231F20" stroke-width="0.8"/>
<line x1="221.6" y1="488.8" x2="224.6" y2="488.8" stroke="#231F20" stroke-width="0.8"/>
<line x1="221.6" y1="496.5" x2="224.6" y2="496.5" stroke="#231F20" stroke-width="0.8"/>
<circle cx="168.5" cy="550.6" r="2.3" fill="#C40A2C"/>
<rect x="189.2" y="543.9" width="4.6" height="4.6" fill="#C40A2C"/>
<rect x="213.1" y="490.4" width="4.6" height="4.6" fill="#C40A2C"/>
<rect x="220.8" y="490.4" width="4.6" height="4.6" fill="#C40A2C"/>
<rect x="166.35" y="547.45" width="4.3" height="4.3" fill="#18528C"/>
<rect x="181.65" y="545.55" width="4.3" height="4.3" fill="#18528C"/>
<rect x="189.35" y="546.85" width="4.3" height="4.3" fill="#18528C"/>
<rect x="213.25" y="547.45" width="4.3" height="4.3" fill="#18528C"/>
<rect x="220.95" y="548.25" width="4.3" height="4.3" fill="#18528C"/>
<text x="215.4" y="483.5" font-size="8.8" fill="#2a2a2a" font-weight="bold" text-anchor="middle">**</text>
<text x="223.1" y="487.9" font-size="8.8" fill="#2a2a2a" font-weight="bold" text-anchor="middle">**</text>
<text x="314.1" y="474.2" font-size="10" fill="#231F20" text-anchor="middle" stroke="#231F20" stroke-width="0.15" textLength="29.3" lengthAdjust="spacingAndGlyphs">CFU-E</text>
<line x1="280.2" y1="480.5" x2="280.2" y2="550.8" stroke="#231F20" stroke-width="1.3"/>
<line x1="277.4" y1="482.8" x2="280.2" y2="482.8" stroke="#231F20" stroke-width="1"/>
<text x="273.9" y="485.8" font-size="8.7" fill="#231F20" text-anchor="end" stroke="#231F20" stroke-width="0.15" textLength="4.45" lengthAdjust="spacingAndGlyphs">6</text>
<line x1="277.4" y1="506.1" x2="280.2" y2="506.1" stroke="#231F20" stroke-width="1"/>
<text x="273.9" y="509.1" font-size="8.7" fill="#231F20" text-anchor="end" stroke="#231F20" stroke-width="0.15" textLength="4.45" lengthAdjust="spacingAndGlyphs">4</text>
<line x1="277.4" y1="528.3" x2="280.2" y2="528.3" stroke="#231F20" stroke-width="1"/>
<text x="273.9" y="531.3" font-size="8.7" fill="#231F20" text-anchor="end" stroke="#231F20" stroke-width="0.15" textLength="4.45" lengthAdjust="spacingAndGlyphs">2</text>
<line x1="277.4" y1="550.8" x2="280.2" y2="550.8" stroke="#231F20" stroke-width="1"/>
<text x="273.9" y="553.8" font-size="8.7" fill="#231F20" text-anchor="end" stroke="#231F20" stroke-width="0.15" textLength="4.45" lengthAdjust="spacingAndGlyphs">0</text>
<line x1="279.55" y1="550.8" x2="346.8" y2="550.8" stroke="#231F20" stroke-width="1.4"/>
<line x1="280.2" y1="550.8" x2="280.2" y2="553.4" stroke="#231F20" stroke-width="1"/>
<text x="280.2" y="563.8" font-size="8.7" fill="#231F20" text-anchor="middle" stroke="#231F20" stroke-width="0.15" textLength="4.45" lengthAdjust="spacingAndGlyphs">0</text>
<line x1="296.6" y1="550.8" x2="296.6" y2="553.4" stroke="#231F20" stroke-width="1"/>
<text x="296.6" y="563.8" font-size="8.7" fill="#231F20" text-anchor="middle" stroke="#231F20" stroke-width="0.15" textLength="8.9" lengthAdjust="spacingAndGlyphs">50</text>
<line x1="312.5" y1="550.8" x2="312.5" y2="553.4" stroke="#231F20" stroke-width="1"/>
<text x="312.5" y="563.8" font-size="8.7" fill="#231F20" text-anchor="middle" stroke="#231F20" stroke-width="0.15" textLength="12" lengthAdjust="spacingAndGlyphs">100</text>
<line x1="328.3" y1="550.8" x2="328.3" y2="553.4" stroke="#231F20" stroke-width="1"/>
<text x="328.3" y="563.8" font-size="8.7" fill="#231F20" text-anchor="middle" stroke="#231F20" stroke-width="0.15" textLength="12" lengthAdjust="spacingAndGlyphs">150</text>
<line x1="344.2" y1="550.8" x2="344.2" y2="553.4" stroke="#231F20" stroke-width="1"/>
<text x="344.2" y="563.8" font-size="8.7" fill="#231F20" text-anchor="middle" stroke="#231F20" stroke-width="0.15" textLength="12" lengthAdjust="spacingAndGlyphs">200</text>
<text x="313.9" y="579.4" font-size="9" fill="#231F20" text-anchor="middle" stroke="#231F20" stroke-width="0.15" textLength="14.6" lengthAdjust="spacingAndGlyphs">(Hr)</text>
<polyline points="280.2,539.4 296.3,495.4 326.4,548.5 333.8,549.4" fill="none" stroke="#C40A2C" stroke-width="1.3"/>
<polyline points="280.2,539.4 296.3,513.4 326.4,550.3 333.8,550.6" fill="none" stroke="#18528C" stroke-width="1.3"/>
<line x1="296.3" y1="487.5" x2="296.3" y2="502.7" stroke="#6a1020" stroke-width="0.8"/>
<line x1="294.8" y1="487.5" x2="297.8" y2="487.5" stroke="#6a1020" stroke-width="0.8"/>
<line x1="294.8" y1="502.7" x2="297.8" y2="502.7" stroke="#6a1020" stroke-width="0.8"/>
<line x1="296.3" y1="510.5" x2="296.3" y2="516.5" stroke="#231F20" stroke-width="0.8"/>
<line x1="294.8" y1="510.5" x2="297.8" y2="510.5" stroke="#231F20" stroke-width="0.8"/>
<line x1="294.8" y1="516.5" x2="297.8" y2="516.5" stroke="#231F20" stroke-width="0.8"/>
<rect x="294" y="493.1" width="4.6" height="4.6" fill="#C40A2C"/>
<rect x="324.1" y="546.2" width="4.6" height="4.6" fill="#C40A2C"/>
<rect x="331.5" y="547.1" width="4.6" height="4.6" fill="#C40A2C"/>
<rect x="277.9" y="537.1" width="4.6" height="4.6" fill="#18528C"/>
<rect x="294" y="511.1" width="4.6" height="4.6" fill="#18528C"/>
<rect x="324.1" y="548" width="4.6" height="4.6" fill="#18528C"/>
<rect x="331.5" y="548.3" width="4.6" height="4.6" fill="#18528C"/>
<text x="296.6" y="487.7" font-size="8.8" fill="#2a2a2a" font-weight="bold" text-anchor="middle">**</text>
<line x1="304.4" y1="491.4" x2="316.5" y2="491.4" stroke="#C40A2C" stroke-width="1.3"/>
<rect x="308.4" y="489.4" width="4" height="4" fill="#C40A2C"/>
<text x="318.2" y="494.3" font-size="8.2" fill="#231F20" stroke="#231F20" stroke-width="0.15" textLength="49.3" lengthAdjust="spacingAndGlyphs">EpoR/JAK2VF</text>
<line x1="304.4" y1="502.7" x2="316.5" y2="502.7" stroke="#18528C" stroke-width="1.3"/>
<rect x="308.4" y="500.7" width="4" height="4" fill="#18528C"/>
<text x="318.2" y="505.6" font-size="8.2" fill="#231F20" stroke="#231F20" stroke-width="0.15" textLength="72.5" lengthAdjust="spacingAndGlyphs">EpoR (core)/JAK2VF</text>
<text x="404.9" y="464" font-size="11.6" fill="#000" font-weight="bold" textLength="9.1" lengthAdjust="spacingAndGlyphs">G</text>
<rect x="442.9" y="459.4" width="5.3" height="3.6" fill="#E8958A"/>
<text x="451.4" y="463.6" font-size="8.2" fill="#231F20" stroke="#231F20" stroke-width="0.15" textLength="41.2" lengthAdjust="spacingAndGlyphs">EpoR/JAK2</text>
<rect x="442.9" y="471" width="5.3" height="3.8" fill="#C40A2C"/>
<text x="451.4" y="475.3" font-size="8.2" fill="#231F20" stroke="#231F20" stroke-width="0.15" textLength="49.6" lengthAdjust="spacingAndGlyphs">EpoR/JAK2VF</text>
<line x1="441.4" y1="481.5" x2="441.4" y2="550.9" stroke="#231F20" stroke-width="1.3"/>
<line x1="438.6" y1="483.8" x2="441.4" y2="483.8" stroke="#231F20" stroke-width="1"/>
<line x1="438.6" y1="506.1" x2="441.4" y2="506.1" stroke="#231F20" stroke-width="1"/>
<line x1="438.6" y1="528.4" x2="441.4" y2="528.4" stroke="#231F20" stroke-width="1"/>
<line x1="438.6" y1="550.9" x2="441.4" y2="550.9" stroke="#231F20" stroke-width="1"/>
<text x="434.6" y="486.7" font-size="8.2" fill="#231F20" text-anchor="end" stroke="#231F20" stroke-width="0.15" textLength="7.6" lengthAdjust="spacingAndGlyphs">15</text>
<text x="434.6" y="509" font-size="8.2" fill="#231F20" text-anchor="end" stroke="#231F20" stroke-width="0.15" textLength="7.6" lengthAdjust="spacingAndGlyphs">10</text>
<text x="434.6" y="531.3" font-size="8.2" fill="#231F20" text-anchor="end" stroke="#231F20" stroke-width="0.15" textLength="3.9" lengthAdjust="spacingAndGlyphs">5</text>
<text x="434.6" y="553.8" font-size="8.2" fill="#231F20" text-anchor="end" stroke="#231F20" stroke-width="0.15" textLength="4" lengthAdjust="spacingAndGlyphs">0</text>
<line x1="440.75" y1="550.9" x2="501.4" y2="550.9" stroke="#231F20" stroke-width="1.4"/>
<rect x="444.7" y="546.8" width="5.5" height="4.1" fill="#E8958A"/>
<rect x="452.4" y="547.2" width="5.5" height="3.7" fill="#C40A2C"/>
<rect x="465.8" y="548.1" width="4.5" height="2.8" fill="#E8958A"/>
<rect x="473.1" y="520.7" width="5.5" height="30.2" fill="#C40A2C"/>
<line x1="475.85" y1="518.5" x2="475.85" y2="520.7" stroke="#4a4a4a" stroke-width="1"/>
<line x1="474.05" y1="518.9" x2="477.65" y2="518.9" stroke="#1a1a1a" stroke-width="1.5"/>
<rect x="485.3" y="536.2" width="5.5" height="14.7" fill="#E8958A"/>
<line x1="488.05" y1="533.9" x2="488.05" y2="536.2" stroke="#4a4a4a" stroke-width="1"/>
<line x1="486.25" y1="534.3" x2="489.85" y2="534.3" stroke="#1a1a1a" stroke-width="1.5"/>
<rect x="493.7" y="503.9" width="5.3" height="47" fill="#C40A2C"/>
<line x1="496.35" y1="501.5" x2="496.35" y2="503.9" stroke="#4a4a4a" stroke-width="1"/>
<line x1="494.55" y1="501.9" x2="498.15" y2="501.9" stroke="#1a1a1a" stroke-width="1.5"/>
<text x="475.4" y="518" font-size="8.8" fill="#2a2a2a" font-weight="bold" text-anchor="middle">**</text>
<polyline points="467.6,547.2 467.6,503.9 475.8,503.9 475.8,509.7" fill="none" stroke="#333" stroke-width="1.1"/>
<text x="471.8" y="504.3" font-size="8.8" fill="#2a2a2a" font-weight="bold" text-anchor="middle">**</text>
<polyline points="487.7,533.1 487.7,488.7 496.3,488.7 496.3,493.3" fill="none" stroke="#333" stroke-width="1.1"/>
<text x="492.3" y="489.3" font-size="8.8" fill="#2a2a2a" font-weight="bold" text-anchor="middle">**</text>
<text x="495.9" y="501" font-size="8.8" fill="#2a2a2a" font-weight="bold" text-anchor="middle">**</text>
<text x="421.4" y="515.5" font-size="7.8" fill="#231F20" stroke="#231F20" stroke-width="0.15" text-anchor="middle" transform="rotate(-90 421.4 515.5)" textLength="38.1" lengthAdjust="spacingAndGlyphs"><tspan font-style="italic">Irs2</tspan> mRNA</text>
<text x="454" y="557.8" font-size="7.8" fill="#231F20" text-anchor="end" stroke="#231F20" stroke-width="0.15" textLength="23" lengthAdjust="spacingAndGlyphs" transform="rotate(-45 454 557.8)">BFU-E</text>
<text x="474.4" y="557.2" font-size="7.8" fill="#231F20" text-anchor="end" stroke="#231F20" stroke-width="0.15" textLength="27.5" lengthAdjust="spacingAndGlyphs" transform="rotate(-45 474.4 557.2)">sCFU-E</text>
<text x="496" y="558.6" font-size="7.8" fill="#231F20" text-anchor="end" stroke="#231F20" stroke-width="0.15" textLength="24.5" lengthAdjust="spacingAndGlyphs" transform="rotate(-45 496 558.6)">CFU-E</text>
<text x="3.9" y="602.3" font-size="11.2" fill="#000" font-weight="bold" textLength="8.5" lengthAdjust="spacingAndGlyphs">H</text>
<rect x="37" y="609.3" width="4.1" height="3.9" fill="#C40A2C"/>
<text x="44.3" y="613.9" font-size="8.2" fill="#231F20" stroke="#231F20" stroke-width="0.15" textLength="50.4" lengthAdjust="spacingAndGlyphs">EpoR/JAK2VF</text>
<rect x="37" y="620.9" width="4.1" height="3.9" fill="#18528C"/>
<text x="44.3" y="625.5" font-size="8.2" fill="#231F20" stroke="#231F20" stroke-width="0.15" textLength="73" lengthAdjust="spacingAndGlyphs">EpoR (core)/JAK2VF</text>
<line x1="44.6" y1="631.5" x2="44.6" y2="701.1" stroke="#231F20" stroke-width="1.3"/>
<line x1="41.8" y1="633.8" x2="44.6" y2="633.8" stroke="#231F20" stroke-width="1"/>
<line x1="41.8" y1="656.5" x2="44.6" y2="656.5" stroke="#231F20" stroke-width="1"/>
<line x1="41.8" y1="678.6" x2="44.6" y2="678.6" stroke="#231F20" stroke-width="1"/>
<line x1="41.8" y1="701.1" x2="44.6" y2="701.1" stroke="#231F20" stroke-width="1"/>
<text x="39.4" y="636.8" font-size="8.6" fill="#231F20" text-anchor="end" stroke="#231F20" stroke-width="0.15" textLength="9" lengthAdjust="spacingAndGlyphs">15</text>
<text x="39.4" y="659.5" font-size="8.6" fill="#231F20" text-anchor="end" stroke="#231F20" stroke-width="0.15" textLength="9.2" lengthAdjust="spacingAndGlyphs">10</text>
<text x="39.4" y="681.6" font-size="8.6" fill="#231F20" text-anchor="end" stroke="#231F20" stroke-width="0.15" textLength="4.6" lengthAdjust="spacingAndGlyphs">5</text>
<text x="39.4" y="704.1" font-size="8.6" fill="#231F20" text-anchor="end" stroke="#231F20" stroke-width="0.15" textLength="4.6" lengthAdjust="spacingAndGlyphs">0</text>
<line x1="43.95" y1="701.1" x2="106.2" y2="701.1" stroke="#231F20" stroke-width="1.4"/>
<rect x="49.4" y="696.3" width="4.4" height="4.8" fill="#C40A2C"/>
<rect x="57.1" y="696.3" width="4.4" height="4.8" fill="#18528C"/>
<rect x="69.6" y="673.2" width="4.2" height="27.9" fill="#C40A2C"/>
<line x1="71.7" y1="670.7" x2="71.7" y2="673.2" stroke="#4a4a4a" stroke-width="1"/>
<line x1="69.9" y1="671.1" x2="73.5" y2="671.1" stroke="#1a1a1a" stroke-width="1.5"/>
<rect x="77.3" y="693.8" width="4.2" height="7.3" fill="#18528C"/>
<rect x="90.4" y="651.1" width="4.2" height="50" fill="#C40A2C"/>
<line x1="92.5" y1="646.8" x2="92.5" y2="651.1" stroke="#4a4a4a" stroke-width="1"/>
<line x1="90.7" y1="647.2" x2="94.3" y2="647.2" stroke="#1a1a1a" stroke-width="1.5"/>
<rect x="98.1" y="654.3" width="4.2" height="46.8" fill="#18528C"/>
<line x1="100.2" y1="649.5" x2="100.2" y2="654.3" stroke="#4a4a4a" stroke-width="1"/>
<line x1="98.4" y1="649.9" x2="102" y2="649.9" stroke="#1a1a1a" stroke-width="1.5"/>
<text x="71.9" y="669.2" font-size="8.8" fill="#2a2a2a" font-weight="bold" text-anchor="middle">**</text>
<polyline points="71.5,659.7 71.5,654 80.2,654 80.2,685.7" fill="none" stroke="#333" stroke-width="1.1"/>
<text x="76.3" y="653.2" font-size="8.8" fill="#2a2a2a" font-weight="bold" text-anchor="middle">**</text>
<text x="92.3" y="645.5" font-size="8.8" fill="#2a2a2a" font-weight="bold" text-anchor="middle">**</text>
<text x="100" y="647.1" font-size="8.8" fill="#2a2a2a" font-weight="bold" text-anchor="middle">**</text>
<text x="23.3" y="666.5" font-size="9.2" fill="#231F20" stroke="#231F20" stroke-width="0.15" text-anchor="middle" transform="rotate(-90 23.3 666.5)" textLength="38.5" lengthAdjust="spacingAndGlyphs"><tspan font-style="italic">Irs2</tspan> mRNA</text>
<text x="58.4" y="708.4" font-size="7.8" fill="#231F20" text-anchor="end" stroke="#231F20" stroke-width="0.15" textLength="22.8" lengthAdjust="spacingAndGlyphs" transform="rotate(-45 58.4 708.4)">BFU-E</text>
<text x="79.4" y="708.4" font-size="7.8" fill="#231F20" text-anchor="end" stroke="#231F20" stroke-width="0.15" textLength="28.5" lengthAdjust="spacingAndGlyphs" transform="rotate(-45 79.4 708.4)">sCFU-E</text>
<text x="100.4" y="709.1" font-size="7.8" fill="#231F20" text-anchor="end" stroke="#231F20" stroke-width="0.15" textLength="24.5" lengthAdjust="spacingAndGlyphs" transform="rotate(-45 100.4 709.1)">CFU-E</text>
<text x="131.3" y="602.7" font-size="12.2" fill="#000" font-weight="bold" textLength="3.4" lengthAdjust="spacingAndGlyphs">I</text>
<text x="189.8" y="611.9" font-size="10" fill="#231F20" text-anchor="middle" stroke="#231F20" stroke-width="0.15" textLength="33.7" lengthAdjust="spacingAndGlyphs">sCFU-E</text>
<line x1="167.4" y1="617.5" x2="167.4" y2="700.7" stroke="#231F20" stroke-width="1.3"/>
<line x1="164.6" y1="619.7" x2="167.4" y2="619.7" stroke="#231F20" stroke-width="1"/>
<line x1="164.6" y1="647.1" x2="167.4" y2="647.1" stroke="#231F20" stroke-width="1"/>
<line x1="164.6" y1="673.9" x2="167.4" y2="673.9" stroke="#231F20" stroke-width="1"/>
<line x1="164.6" y1="700.7" x2="167.4" y2="700.7" stroke="#231F20" stroke-width="1"/>
<text x="162.5" y="622.6" font-size="8.2" fill="#231F20" text-anchor="end" stroke="#231F20" stroke-width="0.15" textLength="12.1" lengthAdjust="spacingAndGlyphs">1.5</text>
<text x="162.5" y="650" font-size="8.2" fill="#231F20" text-anchor="end" stroke="#231F20" stroke-width="0.15">1</text>
<text x="162.5" y="676.8" font-size="8.2" fill="#231F20" text-anchor="end" stroke="#231F20" stroke-width="0.15" textLength="12.1" lengthAdjust="spacingAndGlyphs">0.5</text>
<text x="162.5" y="703.6" font-size="8.2" fill="#231F20" text-anchor="end" stroke="#231F20" stroke-width="0.15">0</text>
<line x1="166.75" y1="700.7" x2="211.2" y2="700.7" stroke="#231F20" stroke-width="1.4"/>
<rect x="170.5" y="647.4" width="8.4" height="53.3" fill="#C8C8CA"/>
<line x1="174.7" y1="642" x2="174.7" y2="647.4" stroke="#4a4a4a" stroke-width="1"/>
<line x1="172.9" y1="642.4" x2="176.5" y2="642.4" stroke="#1a1a1a" stroke-width="1.5"/>
<rect x="185.7" y="665.7" width="7.8" height="35" fill="#3AAA35"/>
<line x1="189.6" y1="648.4" x2="189.6" y2="665.7" stroke="#4a4a4a" stroke-width="1"/>
<line x1="187.8" y1="648.8" x2="191.4" y2="648.8" stroke="#1a1a1a" stroke-width="1.5"/>
<rect x="200.8" y="688" width="7.7" height="12.7" fill="#F7941D"/>
<line x1="204.65" y1="675.7" x2="204.65" y2="688" stroke="#4a4a4a" stroke-width="1"/>
<line x1="202.85" y1="676.1" x2="206.45" y2="676.1" stroke="#1a1a1a" stroke-width="1.5"/>
<text x="204.5" y="674.5" font-size="8.8" fill="#2a2a2a" font-weight="bold" text-anchor="middle">**</text>
<text x="143.7" y="659.3" font-size="10" fill="#231F20" text-anchor="middle" stroke="#231F20" stroke-width="0.15" textLength="14.6" lengthAdjust="spacingAndGlyphs" transform="rotate(-90 143.7 659.3)">Fold</text>
<text x="178.4" y="707.6" font-size="7.9" fill="#231F20" text-anchor="end" stroke="#231F20" stroke-width="0.15" textLength="34" lengthAdjust="spacingAndGlyphs" transform="rotate(-47 178.4 707.6)">shContrl</text>
<text x="192.6" y="707.6" font-size="7.9" fill="#231F20" text-anchor="end" stroke="#231F20" stroke-width="0.15" textLength="34.5" lengthAdjust="spacingAndGlyphs" transform="rotate(-47 192.6 707.6)">shIRS2-1</text>
<text x="207.6" y="707.6" font-size="7.9" fill="#231F20" text-anchor="end" stroke="#231F20" stroke-width="0.15" textLength="34.5" lengthAdjust="spacingAndGlyphs" transform="rotate(-47 207.6 707.6)">shIRS2-2</text>
<text x="287.9" y="611.5" font-size="10.8" fill="#231F20" stroke="#231F20" stroke-width="0.15" textLength="30.2" lengthAdjust="spacingAndGlyphs">Ter119</text>
<text x="318.5" y="608.5" font-size="5.5" fill="#231F20" stroke="#231F20" stroke-width="0.15">+</text>
<line x1="259.1" y1="618.5" x2="259.1" y2="700.9" stroke="#231F20" stroke-width="1.3"/>
<line x1="256.3" y1="620.5" x2="259.1" y2="620.5" stroke="#231F20" stroke-width="1"/>
<text x="252.8" y="623.5" font-size="8.7" fill="#231F20" text-anchor="end" stroke="#231F20" stroke-width="0.15" textLength="8.9" lengthAdjust="spacingAndGlyphs">10</text>
<line x1="256.3" y1="636.6" x2="259.1" y2="636.6" stroke="#231F20" stroke-width="1"/>
<text x="252.8" y="639.6" font-size="8.7" fill="#231F20" text-anchor="end" stroke="#231F20" stroke-width="0.15" textLength="4.45" lengthAdjust="spacingAndGlyphs">8</text>
<line x1="256.3" y1="652.4" x2="259.1" y2="652.4" stroke="#231F20" stroke-width="1"/>
<text x="252.8" y="655.4" font-size="8.7" fill="#231F20" text-anchor="end" stroke="#231F20" stroke-width="0.15" textLength="4.45" lengthAdjust="spacingAndGlyphs">6</text>
<line x1="256.3" y1="668.6" x2="259.1" y2="668.6" stroke="#231F20" stroke-width="1"/>
<text x="252.8" y="671.6" font-size="8.7" fill="#231F20" text-anchor="end" stroke="#231F20" stroke-width="0.15" textLength="4.45" lengthAdjust="spacingAndGlyphs">4</text>
<line x1="256.3" y1="684.7" x2="259.1" y2="684.7" stroke="#231F20" stroke-width="1"/>
<text x="252.8" y="687.7" font-size="8.7" fill="#231F20" text-anchor="end" stroke="#231F20" stroke-width="0.15" textLength="4.45" lengthAdjust="spacingAndGlyphs">2</text>
<line x1="256.3" y1="700.9" x2="259.1" y2="700.9" stroke="#231F20" stroke-width="1"/>
<text x="252.8" y="703.9" font-size="8.7" fill="#231F20" text-anchor="end" stroke="#231F20" stroke-width="0.15" textLength="4.45" lengthAdjust="spacingAndGlyphs">0</text>
<line x1="258.45" y1="700.9" x2="351" y2="700.9" stroke="#231F20" stroke-width="1.4"/>
<text x="271.2" y="711.5" font-size="9.3" fill="#231F20" text-anchor="middle" stroke="#231F20" stroke-width="0.15">24</text>
<text x="294" y="711.5" font-size="9.3" fill="#231F20" text-anchor="middle" stroke="#231F20" stroke-width="0.15">48</text>
<text x="316.9" y="711.5" font-size="9.3" fill="#231F20" text-anchor="middle" stroke="#231F20" stroke-width="0.15">72</text>
<text x="340.1" y="711.5" font-size="9.3" fill="#231F20" text-anchor="middle" stroke="#231F20" stroke-width="0.15">96</text>
<text x="304.9" y="726.2" font-size="9" fill="#231F20" text-anchor="middle" stroke="#231F20" stroke-width="0.15" textLength="14.7" lengthAdjust="spacingAndGlyphs">(Hr)</text>
<text x="238.2" y="660" font-size="10" fill="#231F20" text-anchor="middle" stroke="#231F20" stroke-width="0.15" textLength="54.3" lengthAdjust="spacingAndGlyphs" transform="rotate(-90 238.2 660)">Relative growth</text>
<polyline points="270.6,692.8 293.4,672.6 316.3,635.8 339.5,652.4" fill="none" stroke="#C4C4C4" stroke-width="1.1"/>
<polyline points="270.6,692.8 293.4,676.2 316.3,675 339.5,692.8" fill="none" stroke="#F5A22D" stroke-width="1.3"/>
<polyline points="270.6,692.8 293.4,676.2 316.3,671 339.5,689.8" fill="none" stroke="#3AA935" stroke-width="1.3"/>
<circle cx="270.6" cy="692.8" r="1.6" fill="#C4C4C4"/>
<circle cx="293.4" cy="672.6" r="1.6" fill="#C4C4C4"/>
<circle cx="316.3" cy="635.8" r="1.6" fill="#C4C4C4"/>
<circle cx="339.5" cy="652.4" r="1.6" fill="#C4C4C4"/>
<circle cx="270.6" cy="692.8" r="1.6" fill="#F5A22D"/>
<circle cx="293.4" cy="676.2" r="1.6" fill="#F5A22D"/>
<circle cx="316.3" cy="675" r="1.6" fill="#F5A22D"/>
<circle cx="339.5" cy="692.8" r="1.6" fill="#F5A22D"/>
<circle cx="270.6" cy="692.8" r="1.6" fill="#3AA935"/>
<circle cx="293.4" cy="676.2" r="1.6" fill="#3AA935"/>
<circle cx="316.3" cy="671" r="1.6" fill="#3AA935"/>
<circle cx="339.5" cy="689.8" r="1.6" fill="#3AA935"/>
<line x1="270.6" y1="691.2" x2="270.6" y2="694.8" stroke="#231F20" stroke-width="0.8"/>
<line x1="269.5" y1="691.2" x2="271.7" y2="691.2" stroke="#231F20" stroke-width="0.8"/>
<line x1="269.5" y1="694.8" x2="271.7" y2="694.8" stroke="#231F20" stroke-width="0.8"/>
<line x1="293.4" y1="668.6" x2="293.4" y2="681.1" stroke="#231F20" stroke-width="0.8"/>
<line x1="292.3" y1="668.6" x2="294.5" y2="668.6" stroke="#231F20" stroke-width="0.8"/>
<line x1="292.3" y1="681.1" x2="294.5" y2="681.1" stroke="#231F20" stroke-width="0.8"/>
<line x1="316.3" y1="629.2" x2="316.3" y2="641.3" stroke="#231F20" stroke-width="0.8"/>
<line x1="315.2" y1="629.2" x2="317.4" y2="629.2" stroke="#231F20" stroke-width="0.8"/>
<line x1="315.2" y1="641.3" x2="317.4" y2="641.3" stroke="#231F20" stroke-width="0.8"/>
<line x1="316.3" y1="670.2" x2="316.3" y2="677.7" stroke="#231F20" stroke-width="0.8"/>
<line x1="315.2" y1="670.2" x2="317.4" y2="670.2" stroke="#231F20" stroke-width="0.8"/>
<line x1="315.2" y1="677.7" x2="317.4" y2="677.7" stroke="#231F20" stroke-width="0.8"/>
<line x1="339.5" y1="648" x2="339.5" y2="658.1" stroke="#231F20" stroke-width="0.8"/>
<line x1="338.4" y1="648" x2="340.6" y2="648" stroke="#231F20" stroke-width="0.8"/>
<line x1="338.4" y1="658.1" x2="340.6" y2="658.1" stroke="#231F20" stroke-width="0.8"/>
<line x1="339.5" y1="685.7" x2="339.5" y2="696.4" stroke="#231F20" stroke-width="0.8"/>
<line x1="338.4" y1="685.7" x2="340.6" y2="685.7" stroke="#231F20" stroke-width="0.8"/>
<line x1="338.4" y1="696.4" x2="340.6" y2="696.4" stroke="#231F20" stroke-width="0.8"/>
<text x="316.3" y="626.8" font-size="8.8" fill="#2a2a2a" font-weight="bold" text-anchor="middle">**</text>
<text x="339.5" y="646" font-size="8.8" fill="#2a2a2a" font-weight="bold" text-anchor="middle">**</text>
<line x1="262.1" y1="621.1" x2="272.6" y2="621.1" stroke="#C4C4C4" stroke-width="1.2"/>
<circle cx="267.3" cy="621.1" r="1.6" fill="#C4C4C4"/>
<text x="274.6" y="623.9" font-size="8.5" fill="#231F20" stroke="#231F20" stroke-width="0.15" textLength="30.4" lengthAdjust="spacingAndGlyphs">shContrl</text>
<line x1="262.1" y1="633.2" x2="272.6" y2="633.2" stroke="#3AA935" stroke-width="1.2"/>
<circle cx="267.3" cy="633.2" r="1.6" fill="#3AA935"/>
<text x="274.6" y="636" font-size="8.5" fill="#231F20" stroke="#231F20" stroke-width="0.15" textLength="29.5" lengthAdjust="spacingAndGlyphs">shIRS2-1</text>
<line x1="262.1" y1="645.3" x2="272.6" y2="645.3" stroke="#F5A22D" stroke-width="1.2"/>
<circle cx="267.3" cy="645.3" r="1.6" fill="#F5A22D"/>
<text x="274.6" y="648.1" font-size="8.5" fill="#231F20" stroke="#231F20" stroke-width="0.15" textLength="30.4" lengthAdjust="spacingAndGlyphs">shIRS2-2</text>
</svg>
</body></html>
